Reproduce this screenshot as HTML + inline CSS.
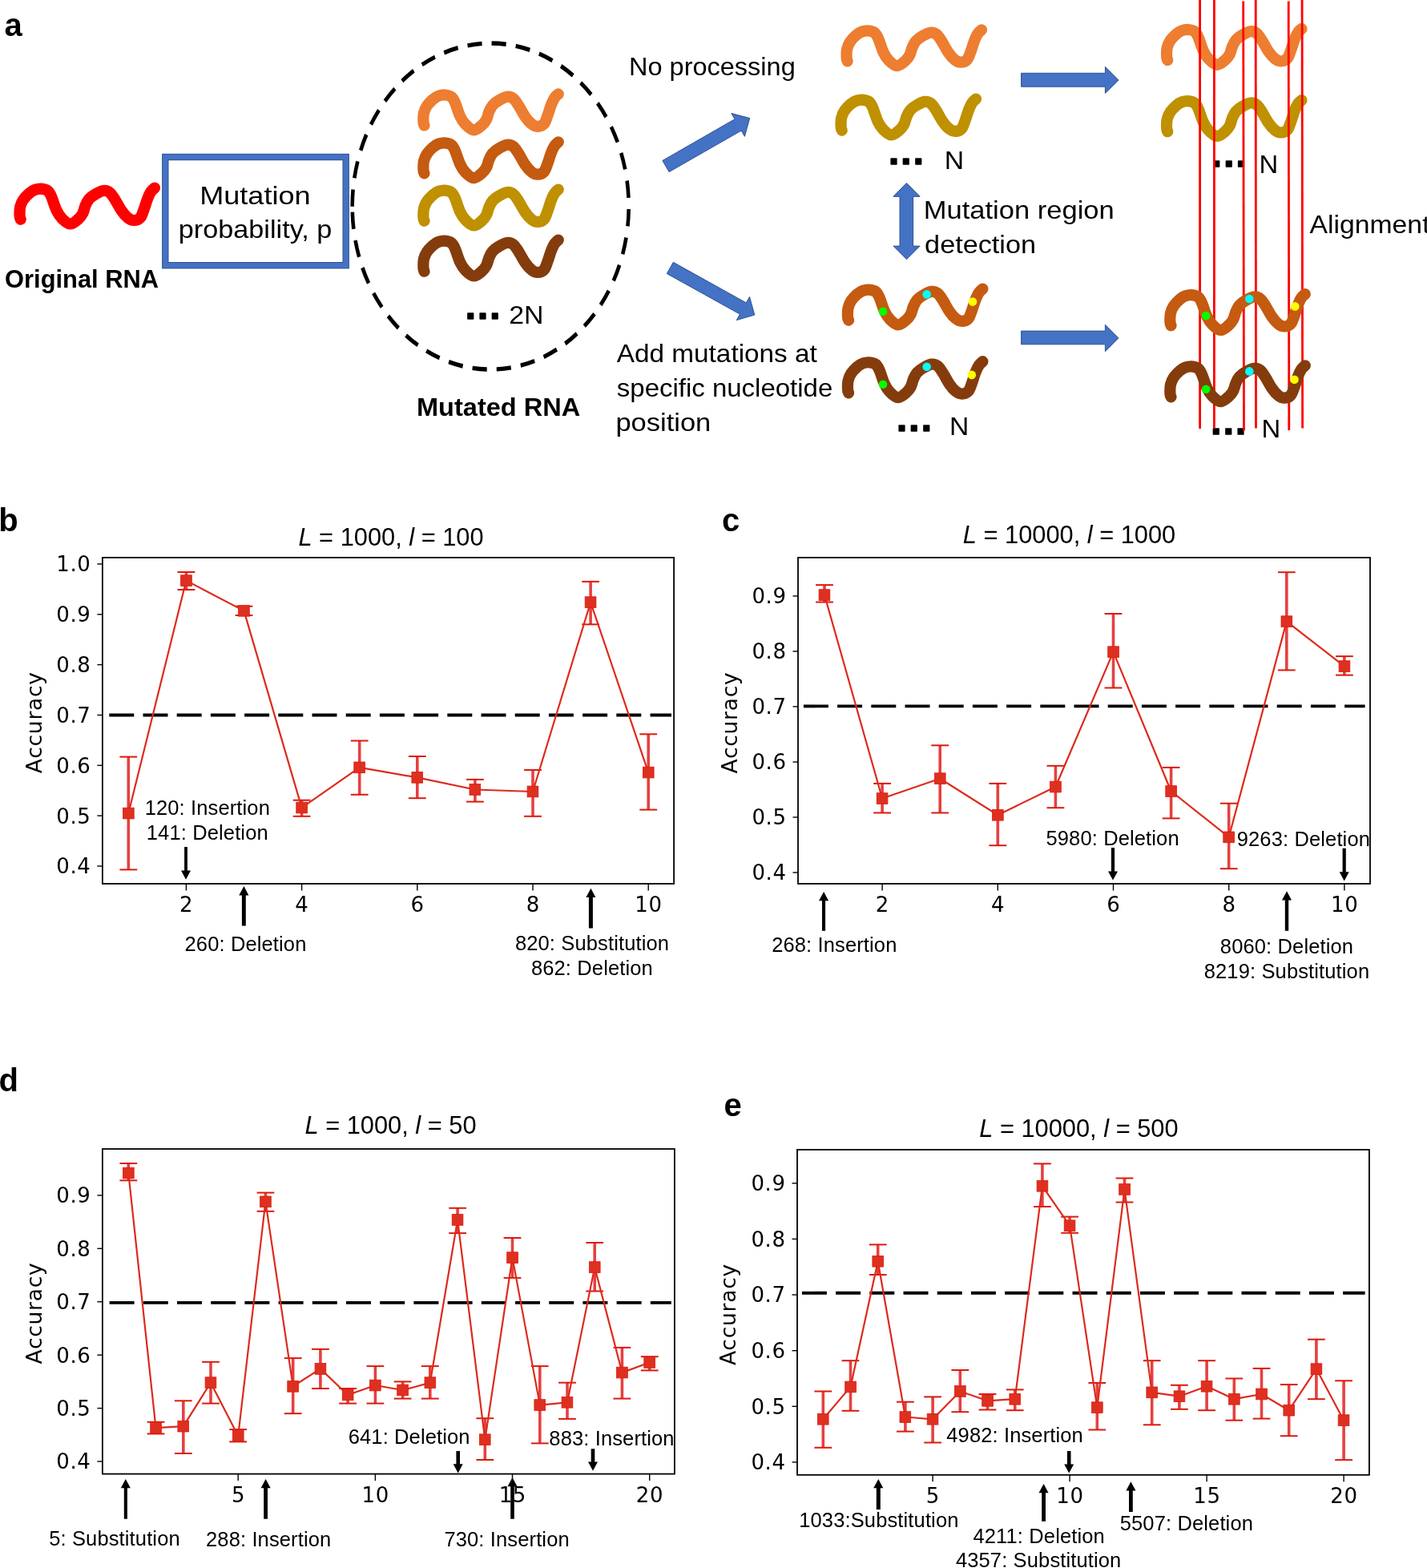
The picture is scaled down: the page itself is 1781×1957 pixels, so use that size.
<!DOCTYPE html><html><head><meta charset="utf-8"><title>Figure</title><style>html,body{margin:0;padding:0;background:#fff;overflow:hidden;}svg{display:block;}</style></head><body><svg width="1781" height="1957" viewBox="0 0 1781 1957"><rect width="1781" height="1957" fill="#fff"/><text x="5.6" y="44.7" font-family='"Liberation Sans", Arial, Helvetica, sans-serif' font-size="40.0" text-anchor="start" font-weight="bold" font-style="normal" fill="#000" >a</text>
<path transform="translate(17.2,228.0)" d="M8.5,45.7 C8.3,45.0 7.5,44.1 7.4,41.5 C7.3,38.9 7.2,33.6 8.0,30.2 C8.8,26.8 10.0,24.0 11.9,21.2 C13.8,18.4 16.8,15.4 19.2,13.3 C21.6,11.2 24.0,9.7 26.5,8.8 C29.0,7.9 31.7,7.5 34.3,7.7 C36.9,7.9 40.1,8.5 42.2,10.0 C44.3,11.5 44.8,12.6 46.7,16.7 C48.6,20.8 51.1,30.0 53.4,34.7 C55.6,39.4 57.4,42.0 60.2,44.8 C63.0,47.6 66.9,51.4 70.3,51.5 C73.7,51.6 77.8,47.7 80.4,45.5 C83.0,43.3 84.5,41.3 86.0,38.5 C87.5,35.7 88.1,31.5 89.4,28.5 C90.7,25.5 91.9,22.8 93.9,20.5 C96.0,18.2 98.7,16.2 101.7,14.5 C104.7,12.8 108.8,10.4 111.8,10.0 C114.8,9.6 117.3,10.3 119.7,12.2 C122.1,14.1 124.0,17.4 126.4,21.2 C128.8,24.9 131.7,31.0 134.3,34.7 C136.9,38.5 139.6,41.7 142.2,43.7 C144.8,45.8 147.4,47.0 150.0,47.0 C152.6,47.0 155.8,46.0 157.9,43.7 C160.0,41.5 160.9,37.4 162.4,33.5 C163.9,29.6 165.4,23.8 166.9,20.1 C168.4,16.4 169.8,13.3 171.3,11.1 C172.8,8.8 175.1,7.3 175.8,6.6" fill="none" stroke="#FF0000" stroke-width="14.2" stroke-linecap="round" stroke-linejoin="round"/>
<text x="6.1" y="359.4" font-family='"Liberation Sans", Arial, Helvetica, sans-serif' font-size="32.0" text-anchor="start" font-weight="bold" font-style="normal" fill="#000" textLength="192" lengthAdjust="spacingAndGlyphs">Original RNA</text>
<rect x="206.3" y="196" width="225.4" height="135.2" fill="none" stroke="#2F528F" stroke-width="8.4"/>
<rect x="206.3" y="196" width="225.4" height="135.2" fill="none" stroke="#4472C4" stroke-width="6.4"/>
<text x="249.2" y="254.5" font-family='"Liberation Sans", Arial, Helvetica, sans-serif' font-size="32.0" text-anchor="start" font-weight="normal" font-style="normal" fill="#000" textLength="138.4" lengthAdjust="spacingAndGlyphs">Mutation</text>
<text x="222.8" y="296.7" font-family='"Liberation Sans", Arial, Helvetica, sans-serif' font-size="32.0" text-anchor="start" font-weight="normal" font-style="normal" fill="#000" textLength="191.5" lengthAdjust="spacingAndGlyphs">probability, p</text>
<path transform="translate(612.2,257.55) scale(1,1.18)" d="M-172.40,6.00 A172.5,172.5 0 0 0 172.40,-6.00 A172.5,172.5 0 0 0 -172.40,6.00" fill="none" stroke="#000" stroke-width="4.6" stroke-dasharray="18.15 12.12"/>
<path transform="translate(521.0,110.8)" d="M8.5,45.7 C8.3,45.0 7.5,44.1 7.4,41.5 C7.3,38.9 7.2,33.6 8.0,30.2 C8.8,26.8 10.0,24.0 11.9,21.2 C13.8,18.4 16.8,15.4 19.2,13.3 C21.6,11.2 24.0,9.7 26.5,8.8 C29.0,7.9 31.7,7.5 34.3,7.7 C36.9,7.9 40.1,8.5 42.2,10.0 C44.3,11.5 44.8,12.6 46.7,16.7 C48.6,20.8 51.1,30.0 53.4,34.7 C55.6,39.4 57.4,42.0 60.2,44.8 C63.0,47.6 66.9,51.4 70.3,51.5 C73.7,51.6 77.8,47.7 80.4,45.5 C83.0,43.3 84.5,41.3 86.0,38.5 C87.5,35.7 88.1,31.5 89.4,28.5 C90.7,25.5 91.9,22.8 93.9,20.5 C96.0,18.2 98.7,16.2 101.7,14.5 C104.7,12.8 108.8,10.4 111.8,10.0 C114.8,9.6 117.3,10.3 119.7,12.2 C122.1,14.1 124.0,17.4 126.4,21.2 C128.8,24.9 131.7,31.0 134.3,34.7 C136.9,38.5 139.6,41.7 142.2,43.7 C144.8,45.8 147.4,47.0 150.0,47.0 C152.6,47.0 155.8,46.0 157.9,43.7 C160.0,41.5 160.9,37.4 162.4,33.5 C163.9,29.6 165.4,23.8 166.9,20.1 C168.4,16.4 169.8,13.3 171.3,11.1 C172.8,8.8 175.1,7.3 175.8,6.6" fill="none" stroke="#ED7D31" stroke-width="14.2" stroke-linecap="round" stroke-linejoin="round"/>
<path transform="translate(521.0,170.7)" d="M8.5,45.7 C8.3,45.0 7.5,44.1 7.4,41.5 C7.3,38.9 7.2,33.6 8.0,30.2 C8.8,26.8 10.0,24.0 11.9,21.2 C13.8,18.4 16.8,15.4 19.2,13.3 C21.6,11.2 24.0,9.7 26.5,8.8 C29.0,7.9 31.7,7.5 34.3,7.7 C36.9,7.9 40.1,8.5 42.2,10.0 C44.3,11.5 44.8,12.6 46.7,16.7 C48.6,20.8 51.1,30.0 53.4,34.7 C55.6,39.4 57.4,42.0 60.2,44.8 C63.0,47.6 66.9,51.4 70.3,51.5 C73.7,51.6 77.8,47.7 80.4,45.5 C83.0,43.3 84.5,41.3 86.0,38.5 C87.5,35.7 88.1,31.5 89.4,28.5 C90.7,25.5 91.9,22.8 93.9,20.5 C96.0,18.2 98.7,16.2 101.7,14.5 C104.7,12.8 108.8,10.4 111.8,10.0 C114.8,9.6 117.3,10.3 119.7,12.2 C122.1,14.1 124.0,17.4 126.4,21.2 C128.8,24.9 131.7,31.0 134.3,34.7 C136.9,38.5 139.6,41.7 142.2,43.7 C144.8,45.8 147.4,47.0 150.0,47.0 C152.6,47.0 155.8,46.0 157.9,43.7 C160.0,41.5 160.9,37.4 162.4,33.5 C163.9,29.6 165.4,23.8 166.9,20.1 C168.4,16.4 169.8,13.3 171.3,11.1 C172.8,8.8 175.1,7.3 175.8,6.6" fill="none" stroke="#C55A11" stroke-width="14.2" stroke-linecap="round" stroke-linejoin="round"/>
<path transform="translate(521.0,230.0)" d="M8.5,45.7 C8.3,45.0 7.5,44.1 7.4,41.5 C7.3,38.9 7.2,33.6 8.0,30.2 C8.8,26.8 10.0,24.0 11.9,21.2 C13.8,18.4 16.8,15.4 19.2,13.3 C21.6,11.2 24.0,9.7 26.5,8.8 C29.0,7.9 31.7,7.5 34.3,7.7 C36.9,7.9 40.1,8.5 42.2,10.0 C44.3,11.5 44.8,12.6 46.7,16.7 C48.6,20.8 51.1,30.0 53.4,34.7 C55.6,39.4 57.4,42.0 60.2,44.8 C63.0,47.6 66.9,51.4 70.3,51.5 C73.7,51.6 77.8,47.7 80.4,45.5 C83.0,43.3 84.5,41.3 86.0,38.5 C87.5,35.7 88.1,31.5 89.4,28.5 C90.7,25.5 91.9,22.8 93.9,20.5 C96.0,18.2 98.7,16.2 101.7,14.5 C104.7,12.8 108.8,10.4 111.8,10.0 C114.8,9.6 117.3,10.3 119.7,12.2 C122.1,14.1 124.0,17.4 126.4,21.2 C128.8,24.9 131.7,31.0 134.3,34.7 C136.9,38.5 139.6,41.7 142.2,43.7 C144.8,45.8 147.4,47.0 150.0,47.0 C152.6,47.0 155.8,46.0 157.9,43.7 C160.0,41.5 160.9,37.4 162.4,33.5 C163.9,29.6 165.4,23.8 166.9,20.1 C168.4,16.4 169.8,13.3 171.3,11.1 C172.8,8.8 175.1,7.3 175.8,6.6" fill="none" stroke="#BF9000" stroke-width="14.2" stroke-linecap="round" stroke-linejoin="round"/>
<path transform="translate(521.0,293.0)" d="M8.5,45.7 C8.3,45.0 7.5,44.1 7.4,41.5 C7.3,38.9 7.2,33.6 8.0,30.2 C8.8,26.8 10.0,24.0 11.9,21.2 C13.8,18.4 16.8,15.4 19.2,13.3 C21.6,11.2 24.0,9.7 26.5,8.8 C29.0,7.9 31.7,7.5 34.3,7.7 C36.9,7.9 40.1,8.5 42.2,10.0 C44.3,11.5 44.8,12.6 46.7,16.7 C48.6,20.8 51.1,30.0 53.4,34.7 C55.6,39.4 57.4,42.0 60.2,44.8 C63.0,47.6 66.9,51.4 70.3,51.5 C73.7,51.6 77.8,47.7 80.4,45.5 C83.0,43.3 84.5,41.3 86.0,38.5 C87.5,35.7 88.1,31.5 89.4,28.5 C90.7,25.5 91.9,22.8 93.9,20.5 C96.0,18.2 98.7,16.2 101.7,14.5 C104.7,12.8 108.8,10.4 111.8,10.0 C114.8,9.6 117.3,10.3 119.7,12.2 C122.1,14.1 124.0,17.4 126.4,21.2 C128.8,24.9 131.7,31.0 134.3,34.7 C136.9,38.5 139.6,41.7 142.2,43.7 C144.8,45.8 147.4,47.0 150.0,47.0 C152.6,47.0 155.8,46.0 157.9,43.7 C160.0,41.5 160.9,37.4 162.4,33.5 C163.9,29.6 165.4,23.8 166.9,20.1 C168.4,16.4 169.8,13.3 171.3,11.1 C172.8,8.8 175.1,7.3 175.8,6.6" fill="none" stroke="#843C0C" stroke-width="14.2" stroke-linecap="round" stroke-linejoin="round"/>
<text x="580.65" y="397.75" font-family='"Liberation Sans", Arial, Helvetica, sans-serif' font-size="47" font-weight="bold" fill="#000" stroke="#000" stroke-width="1.6" stroke-linejoin="round" letter-spacing="2.27">...</text>
<text x="635.2" y="403.9" font-family='"Liberation Sans", Arial, Helvetica, sans-serif' font-size="32.0" text-anchor="start" font-weight="normal" font-style="normal" fill="#000" textLength="43.3" lengthAdjust="spacingAndGlyphs">2N</text>
<text x="520.0" y="518.5" font-family='"Liberation Sans", Arial, Helvetica, sans-serif' font-size="32.0" text-anchor="start" font-weight="bold" font-style="normal" fill="#000" textLength="204.3" lengthAdjust="spacingAndGlyphs">Mutated RNA</text>
<polygon points="835.1,214.6 925.2,163.0 929.4,170.3 935.7,147.5 912.9,141.5 917.0,148.7 826.9,200.4" fill="#4472C4" stroke="#2F528F" stroke-width="1"/>
<polygon points="832.3,341.5 923.4,392.1 919.3,399.6 941.8,393.0 935.5,370.4 931.3,377.9 840.3,327.3" fill="#4472C4" stroke="#2F528F" stroke-width="1"/>
<text x="785.0" y="94.4" font-family='"Liberation Sans", Arial, Helvetica, sans-serif' font-size="32.0" text-anchor="start" font-weight="normal" font-style="normal" fill="#000" textLength="207.7" lengthAdjust="spacingAndGlyphs">No processing</text>
<text x="769.8" y="451.6" font-family='"Liberation Sans", Arial, Helvetica, sans-serif' font-size="32.0" text-anchor="start" font-weight="normal" font-style="normal" fill="#000" textLength="250" lengthAdjust="spacingAndGlyphs">Add mutations at</text>
<text x="769.8" y="495.1" font-family='"Liberation Sans", Arial, Helvetica, sans-serif' font-size="32.0" text-anchor="start" font-weight="normal" font-style="normal" fill="#000" textLength="269.5" lengthAdjust="spacingAndGlyphs">specific nucleotide</text>
<text x="768.4" y="538.1" font-family='"Liberation Sans", Arial, Helvetica, sans-serif' font-size="32.0" text-anchor="start" font-weight="normal" font-style="normal" fill="#000" textLength="118.9" lengthAdjust="spacingAndGlyphs">position</text>
<path transform="translate(1049.2,30.7)" d="M8.5,45.7 C8.3,45.0 7.5,44.1 7.4,41.5 C7.3,38.9 7.2,33.6 8.0,30.2 C8.8,26.8 10.0,24.0 11.9,21.2 C13.8,18.4 16.8,15.4 19.2,13.3 C21.6,11.2 24.0,9.7 26.5,8.8 C29.0,7.9 31.7,7.5 34.3,7.7 C36.9,7.9 40.1,8.5 42.2,10.0 C44.3,11.5 44.8,12.6 46.7,16.7 C48.6,20.8 51.1,30.0 53.4,34.7 C55.6,39.4 57.4,42.0 60.2,44.8 C63.0,47.6 66.9,51.4 70.3,51.5 C73.7,51.6 77.8,47.7 80.4,45.5 C83.0,43.3 84.5,41.3 86.0,38.5 C87.5,35.7 88.1,31.5 89.4,28.5 C90.7,25.5 91.9,22.8 93.9,20.5 C96.0,18.2 98.7,16.2 101.7,14.5 C104.7,12.8 108.8,10.4 111.8,10.0 C114.8,9.6 117.3,10.3 119.7,12.2 C122.1,14.1 124.0,17.4 126.4,21.2 C128.8,24.9 131.7,31.0 134.3,34.7 C136.9,38.5 139.6,41.7 142.2,43.7 C144.8,45.8 147.4,47.0 150.0,47.0 C152.6,47.0 155.8,46.0 157.9,43.7 C160.0,41.5 160.9,37.4 162.4,33.5 C163.9,29.6 165.4,23.8 166.9,20.1 C168.4,16.4 169.8,13.3 171.3,11.1 C172.8,8.8 175.1,7.3 175.8,6.6" fill="none" stroke="#ED7D31" stroke-width="14.2" stroke-linecap="round" stroke-linejoin="round"/>
<path transform="translate(1042.2,116.9)" d="M8.5,45.7 C8.3,45.0 7.5,44.1 7.4,41.5 C7.3,38.9 7.2,33.6 8.0,30.2 C8.8,26.8 10.0,24.0 11.9,21.2 C13.8,18.4 16.8,15.4 19.2,13.3 C21.6,11.2 24.0,9.7 26.5,8.8 C29.0,7.9 31.7,7.5 34.3,7.7 C36.9,7.9 40.1,8.5 42.2,10.0 C44.3,11.5 44.8,12.6 46.7,16.7 C48.6,20.8 51.1,30.0 53.4,34.7 C55.6,39.4 57.4,42.0 60.2,44.8 C63.0,47.6 66.9,51.4 70.3,51.5 C73.7,51.6 77.8,47.7 80.4,45.5 C83.0,43.3 84.5,41.3 86.0,38.5 C87.5,35.7 88.1,31.5 89.4,28.5 C90.7,25.5 91.9,22.8 93.9,20.5 C96.0,18.2 98.7,16.2 101.7,14.5 C104.7,12.8 108.8,10.4 111.8,10.0 C114.8,9.6 117.3,10.3 119.7,12.2 C122.1,14.1 124.0,17.4 126.4,21.2 C128.8,24.9 131.7,31.0 134.3,34.7 C136.9,38.5 139.6,41.7 142.2,43.7 C144.8,45.8 147.4,47.0 150.0,47.0 C152.6,47.0 155.8,46.0 157.9,43.7 C160.0,41.5 160.9,37.4 162.4,33.5 C163.9,29.6 165.4,23.8 166.9,20.1 C168.4,16.4 169.8,13.3 171.3,11.1 C172.8,8.8 175.1,7.3 175.8,6.6" fill="none" stroke="#BF9000" stroke-width="14.2" stroke-linecap="round" stroke-linejoin="round"/>
<text x="1109.05" y="204.95" font-family='"Liberation Sans", Arial, Helvetica, sans-serif' font-size="47" font-weight="bold" fill="#000" stroke="#000" stroke-width="1.6" stroke-linejoin="round" letter-spacing="2.27">...</text>
<text x="1178.7" y="210.9" font-family='"Liberation Sans", Arial, Helvetica, sans-serif' font-size="32.0" text-anchor="start" font-weight="normal" font-style="normal" fill="#000" textLength="24.4" lengthAdjust="spacingAndGlyphs">N</text>
<path transform="translate(1050.6,353.9)" d="M8.5,45.7 C8.3,45.0 7.5,44.1 7.4,41.5 C7.3,38.9 7.2,33.6 8.0,30.2 C8.8,26.8 10.0,24.0 11.9,21.2 C13.8,18.4 16.8,15.4 19.2,13.3 C21.6,11.2 24.0,9.7 26.5,8.8 C29.0,7.9 31.7,7.5 34.3,7.7 C36.9,7.9 40.1,8.5 42.2,10.0 C44.3,11.5 44.8,12.6 46.7,16.7 C48.6,20.8 51.1,30.0 53.4,34.7 C55.6,39.4 57.4,42.0 60.2,44.8 C63.0,47.6 66.9,51.4 70.3,51.5 C73.7,51.6 77.8,47.7 80.4,45.5 C83.0,43.3 84.5,41.3 86.0,38.5 C87.5,35.7 88.1,31.5 89.4,28.5 C90.7,25.5 91.9,22.8 93.9,20.5 C96.0,18.2 98.7,16.2 101.7,14.5 C104.7,12.8 108.8,10.4 111.8,10.0 C114.8,9.6 117.3,10.3 119.7,12.2 C122.1,14.1 124.0,17.4 126.4,21.2 C128.8,24.9 131.7,31.0 134.3,34.7 C136.9,38.5 139.6,41.7 142.2,43.7 C144.8,45.8 147.4,47.0 150.0,47.0 C152.6,47.0 155.8,46.0 157.9,43.7 C160.0,41.5 160.9,37.4 162.4,33.5 C163.9,29.6 165.4,23.8 166.9,20.1 C168.4,16.4 169.8,13.3 171.3,11.1 C172.8,8.8 175.1,7.3 175.8,6.6" fill="none" stroke="#C55A11" stroke-width="14.2" stroke-linecap="round" stroke-linejoin="round"/>
<path transform="translate(1050.6,444.6)" d="M8.5,45.7 C8.3,45.0 7.5,44.1 7.4,41.5 C7.3,38.9 7.2,33.6 8.0,30.2 C8.8,26.8 10.0,24.0 11.9,21.2 C13.8,18.4 16.8,15.4 19.2,13.3 C21.6,11.2 24.0,9.7 26.5,8.8 C29.0,7.9 31.7,7.5 34.3,7.7 C36.9,7.9 40.1,8.5 42.2,10.0 C44.3,11.5 44.8,12.6 46.7,16.7 C48.6,20.8 51.1,30.0 53.4,34.7 C55.6,39.4 57.4,42.0 60.2,44.8 C63.0,47.6 66.9,51.4 70.3,51.5 C73.7,51.6 77.8,47.7 80.4,45.5 C83.0,43.3 84.5,41.3 86.0,38.5 C87.5,35.7 88.1,31.5 89.4,28.5 C90.7,25.5 91.9,22.8 93.9,20.5 C96.0,18.2 98.7,16.2 101.7,14.5 C104.7,12.8 108.8,10.4 111.8,10.0 C114.8,9.6 117.3,10.3 119.7,12.2 C122.1,14.1 124.0,17.4 126.4,21.2 C128.8,24.9 131.7,31.0 134.3,34.7 C136.9,38.5 139.6,41.7 142.2,43.7 C144.8,45.8 147.4,47.0 150.0,47.0 C152.6,47.0 155.8,46.0 157.9,43.7 C160.0,41.5 160.9,37.4 162.4,33.5 C163.9,29.6 165.4,23.8 166.9,20.1 C168.4,16.4 169.8,13.3 171.3,11.1 C172.8,8.8 175.1,7.3 175.8,6.6" fill="none" stroke="#843C0C" stroke-width="14.2" stroke-linecap="round" stroke-linejoin="round"/>
<circle cx="1102.0" cy="388.7" r="5.3" fill="#00FF00"/>
<circle cx="1156.7" cy="367.4" r="5.3" fill="#00FFFF"/>
<circle cx="1214.0" cy="376.6" r="5.3" fill="#FFFF00"/>
<circle cx="1102.0" cy="479.7" r="5.3" fill="#00FF00"/>
<circle cx="1156.7" cy="457.8" r="5.3" fill="#00FFFF"/>
<circle cx="1212.8" cy="467.9" r="5.3" fill="#FFFF00"/>
<text x="1119.05" y="537.75" font-family='"Liberation Sans", Arial, Helvetica, sans-serif' font-size="47" font-weight="bold" fill="#000" stroke="#000" stroke-width="1.6" stroke-linejoin="round" letter-spacing="2.27">...</text>
<text x="1185.0" y="542.8" font-family='"Liberation Sans", Arial, Helvetica, sans-serif' font-size="32.0" text-anchor="start" font-weight="normal" font-style="normal" fill="#000" textLength="24.3" lengthAdjust="spacingAndGlyphs">N</text>
<polygon points="1131.5,228.4 1148.1,245.3 1139.6,245.3 1139.6,307.1 1148.1,307.1 1131.5,323.7 1114.9,307.1 1123,307.1 1123,245.3 1114.9,245.3" fill="#4472C4" stroke="#2F528F" stroke-width="1"/>
<text x="1152.8" y="272.5" font-family='"Liberation Sans", Arial, Helvetica, sans-serif' font-size="32.0" text-anchor="start" font-weight="normal" font-style="normal" fill="#000" textLength="237.9" lengthAdjust="spacingAndGlyphs">Mutation region</text>
<text x="1154.1" y="316.2" font-family='"Liberation Sans", Arial, Helvetica, sans-serif' font-size="32.0" text-anchor="start" font-weight="normal" font-style="normal" fill="#000" textLength="138.9" lengthAdjust="spacingAndGlyphs">detection</text>
<polygon points="1274.6,91.3 1379.4,91.3 1379.4,83.4 1396,99.9 1379.4,116.4 1379.4,108.2 1274.6,108.2" fill="#4472C4" stroke="#2F528F" stroke-width="1"/>
<polygon points="1274.6,413.1 1379.4,413.1 1379.4,405.2 1396,421.9 1379.4,438.6 1379.4,429.8 1274.6,429.8" fill="#4472C4" stroke="#2F528F" stroke-width="1"/>
<path transform="translate(1448.7,29.3)" d="M8.5,45.7 C8.3,45.0 7.5,44.1 7.4,41.5 C7.3,38.9 7.2,33.6 8.0,30.2 C8.8,26.8 10.0,24.0 11.9,21.2 C13.8,18.4 16.8,15.4 19.2,13.3 C21.6,11.2 24.0,9.7 26.5,8.8 C29.0,7.9 31.7,7.5 34.3,7.7 C36.9,7.9 40.1,8.5 42.2,10.0 C44.3,11.5 44.8,12.6 46.7,16.7 C48.6,20.8 51.1,30.0 53.4,34.7 C55.6,39.4 57.4,42.0 60.2,44.8 C63.0,47.6 66.9,51.4 70.3,51.5 C73.7,51.6 77.8,47.7 80.4,45.5 C83.0,43.3 84.5,41.3 86.0,38.5 C87.5,35.7 88.1,31.5 89.4,28.5 C90.7,25.5 91.9,22.8 93.9,20.5 C96.0,18.2 98.7,16.2 101.7,14.5 C104.7,12.8 108.8,10.4 111.8,10.0 C114.8,9.6 117.3,10.3 119.7,12.2 C122.1,14.1 124.0,17.4 126.4,21.2 C128.8,24.9 131.7,31.0 134.3,34.7 C136.9,38.5 139.6,41.7 142.2,43.7 C144.8,45.8 147.4,47.0 150.0,47.0 C152.6,47.0 155.8,46.0 157.9,43.7 C160.0,41.5 160.9,37.4 162.4,33.5 C163.9,29.6 165.4,23.8 166.9,20.1 C168.4,16.4 169.8,13.3 171.3,11.1 C172.8,8.8 175.1,7.3 175.8,6.6" fill="none" stroke="#ED7D31" stroke-width="14.2" stroke-linecap="round" stroke-linejoin="round"/>
<path transform="translate(1448.7,118.5)" d="M8.5,45.7 C8.3,45.0 7.5,44.1 7.4,41.5 C7.3,38.9 7.2,33.6 8.0,30.2 C8.8,26.8 10.0,24.0 11.9,21.2 C13.8,18.4 16.8,15.4 19.2,13.3 C21.6,11.2 24.0,9.7 26.5,8.8 C29.0,7.9 31.7,7.5 34.3,7.7 C36.9,7.9 40.1,8.5 42.2,10.0 C44.3,11.5 44.8,12.6 46.7,16.7 C48.6,20.8 51.1,30.0 53.4,34.7 C55.6,39.4 57.4,42.0 60.2,44.8 C63.0,47.6 66.9,51.4 70.3,51.5 C73.7,51.6 77.8,47.7 80.4,45.5 C83.0,43.3 84.5,41.3 86.0,38.5 C87.5,35.7 88.1,31.5 89.4,28.5 C90.7,25.5 91.9,22.8 93.9,20.5 C96.0,18.2 98.7,16.2 101.7,14.5 C104.7,12.8 108.8,10.4 111.8,10.0 C114.8,9.6 117.3,10.3 119.7,12.2 C122.1,14.1 124.0,17.4 126.4,21.2 C128.8,24.9 131.7,31.0 134.3,34.7 C136.9,38.5 139.6,41.7 142.2,43.7 C144.8,45.8 147.4,47.0 150.0,47.0 C152.6,47.0 155.8,46.0 157.9,43.7 C160.0,41.5 160.9,37.4 162.4,33.5 C163.9,29.6 165.4,23.8 166.9,20.1 C168.4,16.4 169.8,13.3 171.3,11.1 C172.8,8.8 175.1,7.3 175.8,6.6" fill="none" stroke="#BF9000" stroke-width="14.2" stroke-linecap="round" stroke-linejoin="round"/>
<text x="1511.85" y="208.45" font-family='"Liberation Sans", Arial, Helvetica, sans-serif' font-size="47" font-weight="bold" fill="#000" stroke="#000" stroke-width="1.6" stroke-linejoin="round" letter-spacing="2.27">...</text>
<text x="1511.35" y="541.95" font-family='"Liberation Sans", Arial, Helvetica, sans-serif' font-size="47" font-weight="bold" fill="#000" stroke="#000" stroke-width="1.6" stroke-linejoin="round" letter-spacing="2.27">...</text>
<text x="1571.5" y="215.6" font-family='"Liberation Sans", Arial, Helvetica, sans-serif' font-size="32.0" text-anchor="start" font-weight="normal" font-style="normal" fill="#000" textLength="23.7" lengthAdjust="spacingAndGlyphs">N</text>
<text x="1574.4" y="545.6" font-family='"Liberation Sans", Arial, Helvetica, sans-serif' font-size="32.0" text-anchor="start" font-weight="normal" font-style="normal" fill="#000" textLength="23.7" lengthAdjust="spacingAndGlyphs">N</text>
<line x1="1497.6" y1="0.0" x2="1497.6" y2="535.0" stroke="#FF0000" stroke-width="2.8"/>
<line x1="1515.4" y1="0.0" x2="1515.4" y2="534.5" stroke="#FF0000" stroke-width="2.8"/>
<line x1="1551.7" y1="1.5" x2="1552.5" y2="537.5" stroke="#FF0000" stroke-width="2.8"/>
<line x1="1567.2" y1="0.0" x2="1567.5" y2="534.5" stroke="#FF0000" stroke-width="2.8"/>
<line x1="1608.2" y1="1.5" x2="1608.8" y2="537.0" stroke="#FF0000" stroke-width="2.8"/>
<line x1="1625.1" y1="0.0" x2="1625.6" y2="534.5" stroke="#FF0000" stroke-width="2.8"/>
<path transform="translate(1453.0,360.5)" d="M8.5,45.7 C8.3,45.0 7.5,44.1 7.4,41.5 C7.3,38.9 7.2,33.6 8.0,30.2 C8.8,26.8 10.0,24.0 11.9,21.2 C13.8,18.4 16.8,15.4 19.2,13.3 C21.6,11.2 24.0,9.7 26.5,8.8 C29.0,7.9 31.7,7.5 34.3,7.7 C36.9,7.9 40.1,8.5 42.2,10.0 C44.3,11.5 44.8,12.6 46.7,16.7 C48.6,20.8 51.1,30.0 53.4,34.7 C55.6,39.4 57.4,42.0 60.2,44.8 C63.0,47.6 66.9,51.4 70.3,51.5 C73.7,51.6 77.8,47.7 80.4,45.5 C83.0,43.3 84.5,41.3 86.0,38.5 C87.5,35.7 88.1,31.5 89.4,28.5 C90.7,25.5 91.9,22.8 93.9,20.5 C96.0,18.2 98.7,16.2 101.7,14.5 C104.7,12.8 108.8,10.4 111.8,10.0 C114.8,9.6 117.3,10.3 119.7,12.2 C122.1,14.1 124.0,17.4 126.4,21.2 C128.8,24.9 131.7,31.0 134.3,34.7 C136.9,38.5 139.6,41.7 142.2,43.7 C144.8,45.8 147.4,47.0 150.0,47.0 C152.6,47.0 155.8,46.0 157.9,43.7 C160.0,41.5 160.9,37.4 162.4,33.5 C163.9,29.6 165.4,23.8 166.9,20.1 C168.4,16.4 169.8,13.3 171.3,11.1 C172.8,8.8 175.1,7.3 175.8,6.6" fill="none" stroke="#C55A11" stroke-width="14.2" stroke-linecap="round" stroke-linejoin="round"/>
<path transform="translate(1453.0,449.7)" d="M8.5,45.7 C8.3,45.0 7.5,44.1 7.4,41.5 C7.3,38.9 7.2,33.6 8.0,30.2 C8.8,26.8 10.0,24.0 11.9,21.2 C13.8,18.4 16.8,15.4 19.2,13.3 C21.6,11.2 24.0,9.7 26.5,8.8 C29.0,7.9 31.7,7.5 34.3,7.7 C36.9,7.9 40.1,8.5 42.2,10.0 C44.3,11.5 44.8,12.6 46.7,16.7 C48.6,20.8 51.1,30.0 53.4,34.7 C55.6,39.4 57.4,42.0 60.2,44.8 C63.0,47.6 66.9,51.4 70.3,51.5 C73.7,51.6 77.8,47.7 80.4,45.5 C83.0,43.3 84.5,41.3 86.0,38.5 C87.5,35.7 88.1,31.5 89.4,28.5 C90.7,25.5 91.9,22.8 93.9,20.5 C96.0,18.2 98.7,16.2 101.7,14.5 C104.7,12.8 108.8,10.4 111.8,10.0 C114.8,9.6 117.3,10.3 119.7,12.2 C122.1,14.1 124.0,17.4 126.4,21.2 C128.8,24.9 131.7,31.0 134.3,34.7 C136.9,38.5 139.6,41.7 142.2,43.7 C144.8,45.8 147.4,47.0 150.0,47.0 C152.6,47.0 155.8,46.0 157.9,43.7 C160.0,41.5 160.9,37.4 162.4,33.5 C163.9,29.6 165.4,23.8 166.9,20.1 C168.4,16.4 169.8,13.3 171.3,11.1 C172.8,8.8 175.1,7.3 175.8,6.6" fill="none" stroke="#843C0C" stroke-width="14.2" stroke-linecap="round" stroke-linejoin="round"/>
<circle cx="1505.2" cy="394.1" r="5.3" fill="#00FF00"/>
<circle cx="1559.3" cy="373.0" r="5.3" fill="#00FFFF"/>
<circle cx="1616.3" cy="382.4" r="5.3" fill="#FFFF00"/>
<circle cx="1505.2" cy="485.7" r="5.3" fill="#00FF00"/>
<circle cx="1559.3" cy="463.4" r="5.3" fill="#00FFFF"/>
<circle cx="1615.5" cy="473.7" r="5.3" fill="#FFFF00"/>
<text x="1634.5" y="291.1" font-family='"Liberation Sans", Arial, Helvetica, sans-serif' font-size="32.0" text-anchor="start" font-weight="normal" font-style="normal" fill="#000" textLength="150" lengthAdjust="spacingAndGlyphs">Alignment</text>
<line x1="136.3" y1="892.5" x2="838.0" y2="892.5" stroke="#000" stroke-width="3.9" stroke-dasharray="31 11.2"/>
<line x1="160.3" y1="944.6" x2="160.3" y2="1085.4" stroke="#E64040" stroke-width="3.6"/>
<line x1="149.4" y1="944.6" x2="171.2" y2="944.6" stroke="#DC1A0C" stroke-width="2"/>
<line x1="149.4" y1="1085.4" x2="171.2" y2="1085.4" stroke="#DC1A0C" stroke-width="2"/>
<line x1="232.4" y1="714.0" x2="232.4" y2="736.0" stroke="#E64040" stroke-width="3.6"/>
<line x1="221.5" y1="714.0" x2="243.3" y2="714.0" stroke="#DC1A0C" stroke-width="2"/>
<line x1="221.5" y1="736.0" x2="243.3" y2="736.0" stroke="#DC1A0C" stroke-width="2"/>
<line x1="304.5" y1="756.7" x2="304.5" y2="768.0" stroke="#E64040" stroke-width="3.6"/>
<line x1="293.6" y1="756.7" x2="315.4" y2="756.7" stroke="#DC1A0C" stroke-width="2"/>
<line x1="293.6" y1="768.0" x2="315.4" y2="768.0" stroke="#DC1A0C" stroke-width="2"/>
<line x1="376.6" y1="998.7" x2="376.6" y2="1018.8" stroke="#E64040" stroke-width="3.6"/>
<line x1="365.7" y1="998.7" x2="387.5" y2="998.7" stroke="#DC1A0C" stroke-width="2"/>
<line x1="365.7" y1="1018.8" x2="387.5" y2="1018.8" stroke="#DC1A0C" stroke-width="2"/>
<line x1="448.7" y1="924.5" x2="448.7" y2="991.8" stroke="#E64040" stroke-width="3.6"/>
<line x1="437.8" y1="924.5" x2="459.6" y2="924.5" stroke="#DC1A0C" stroke-width="2"/>
<line x1="437.8" y1="991.8" x2="459.6" y2="991.8" stroke="#DC1A0C" stroke-width="2"/>
<line x1="520.8" y1="944.0" x2="520.8" y2="996.2" stroke="#E64040" stroke-width="3.6"/>
<line x1="509.9" y1="944.0" x2="531.7" y2="944.0" stroke="#DC1A0C" stroke-width="2"/>
<line x1="509.9" y1="996.2" x2="531.7" y2="996.2" stroke="#DC1A0C" stroke-width="2"/>
<line x1="592.9" y1="972.9" x2="592.9" y2="1000.6" stroke="#E64040" stroke-width="3.6"/>
<line x1="582.0" y1="972.9" x2="603.8" y2="972.9" stroke="#DC1A0C" stroke-width="2"/>
<line x1="582.0" y1="1000.6" x2="603.8" y2="1000.6" stroke="#DC1A0C" stroke-width="2"/>
<line x1="665.0" y1="961.0" x2="665.0" y2="1018.8" stroke="#E64040" stroke-width="3.6"/>
<line x1="654.1" y1="961.0" x2="675.9" y2="961.0" stroke="#DC1A0C" stroke-width="2"/>
<line x1="654.1" y1="1018.8" x2="675.9" y2="1018.8" stroke="#DC1A0C" stroke-width="2"/>
<line x1="737.1" y1="725.9" x2="737.1" y2="779.3" stroke="#E64040" stroke-width="3.6"/>
<line x1="726.2" y1="725.9" x2="748.0" y2="725.9" stroke="#DC1A0C" stroke-width="2"/>
<line x1="726.2" y1="779.3" x2="748.0" y2="779.3" stroke="#DC1A0C" stroke-width="2"/>
<line x1="809.2" y1="916.3" x2="809.2" y2="1010.6" stroke="#E64040" stroke-width="3.6"/>
<line x1="798.3" y1="916.3" x2="820.1" y2="916.3" stroke="#DC1A0C" stroke-width="2"/>
<line x1="798.3" y1="1010.6" x2="820.1" y2="1010.6" stroke="#DC1A0C" stroke-width="2"/>
<polyline points="160.3,1015.0 232.4,724.6 304.5,762.4 376.6,1008.1 448.7,957.8 520.8,970.4 592.9,985.5 665.0,988.0 737.1,751.7 809.2,964.1" fill="none" stroke="#DD2A1C" stroke-width="2.2" stroke-linejoin="round"/>
<rect x="153.5" y="1008.2" width="13.7" height="13.7" fill="#DE3021" stroke="#DC1A0C" stroke-width="0.8"/>
<rect x="225.6" y="717.8" width="13.7" height="13.7" fill="#DE3021" stroke="#DC1A0C" stroke-width="0.8"/>
<rect x="297.6" y="755.5" width="13.7" height="13.7" fill="#DE3021" stroke="#DC1A0C" stroke-width="0.8"/>
<rect x="369.8" y="1001.2" width="13.7" height="13.7" fill="#DE3021" stroke="#DC1A0C" stroke-width="0.8"/>
<rect x="441.8" y="951.0" width="13.7" height="13.7" fill="#DE3021" stroke="#DC1A0C" stroke-width="0.8"/>
<rect x="513.9" y="963.5" width="13.7" height="13.7" fill="#DE3021" stroke="#DC1A0C" stroke-width="0.8"/>
<rect x="586.0" y="978.6" width="13.7" height="13.7" fill="#DE3021" stroke="#DC1A0C" stroke-width="0.8"/>
<rect x="658.1" y="981.1" width="13.7" height="13.7" fill="#DE3021" stroke="#DC1A0C" stroke-width="0.8"/>
<rect x="730.2" y="744.8" width="13.7" height="13.7" fill="#DE3021" stroke="#DC1A0C" stroke-width="0.8"/>
<rect x="802.4" y="957.2" width="13.7" height="13.7" fill="#DE3021" stroke="#DC1A0C" stroke-width="0.8"/>
<rect x="127.9" y="695.9" width="713.2" height="407.1" fill="none" stroke="#000" stroke-width="1.8"/>
<line x1="121.4" y1="1081.0" x2="127.9" y2="1081.0" stroke="#000" stroke-width="1.4"/>
<text x="113.5" y="1090.3" font-family='"DejaVu Sans", "Liberation Sans", sans-serif' font-size="26.0" text-anchor="end" font-weight="normal" font-style="normal" fill="#000" letter-spacing="0.6">0.4</text>
<line x1="121.4" y1="1018.1" x2="127.9" y2="1018.1" stroke="#000" stroke-width="1.4"/>
<text x="113.5" y="1027.5" font-family='"DejaVu Sans", "Liberation Sans", sans-serif' font-size="26.0" text-anchor="end" font-weight="normal" font-style="normal" fill="#000" letter-spacing="0.6">0.5</text>
<line x1="121.4" y1="955.3" x2="127.9" y2="955.3" stroke="#000" stroke-width="1.4"/>
<text x="113.5" y="964.6" font-family='"DejaVu Sans", "Liberation Sans", sans-serif' font-size="26.0" text-anchor="end" font-weight="normal" font-style="normal" fill="#000" letter-spacing="0.6">0.6</text>
<line x1="121.4" y1="892.5" x2="127.9" y2="892.5" stroke="#000" stroke-width="1.4"/>
<text x="113.5" y="901.8" font-family='"DejaVu Sans", "Liberation Sans", sans-serif' font-size="26.0" text-anchor="end" font-weight="normal" font-style="normal" fill="#000" letter-spacing="0.6">0.7</text>
<line x1="121.4" y1="829.6" x2="127.9" y2="829.6" stroke="#000" stroke-width="1.4"/>
<text x="113.5" y="838.9" font-family='"DejaVu Sans", "Liberation Sans", sans-serif' font-size="26.0" text-anchor="end" font-weight="normal" font-style="normal" fill="#000" letter-spacing="0.6">0.8</text>
<line x1="121.4" y1="766.8" x2="127.9" y2="766.8" stroke="#000" stroke-width="1.4"/>
<text x="113.5" y="776.0" font-family='"DejaVu Sans", "Liberation Sans", sans-serif' font-size="26.0" text-anchor="end" font-weight="normal" font-style="normal" fill="#000" letter-spacing="0.6">0.9</text>
<line x1="121.4" y1="703.9" x2="127.9" y2="703.9" stroke="#000" stroke-width="1.4"/>
<text x="113.5" y="713.2" font-family='"DejaVu Sans", "Liberation Sans", sans-serif' font-size="26.0" text-anchor="end" font-weight="normal" font-style="normal" fill="#000" letter-spacing="0.6">1.0</text>
<line x1="232.4" y1="1103.0" x2="232.4" y2="1111.5" stroke="#000" stroke-width="1.4"/>
<text x="232.7" y="1138.0" font-family='"DejaVu Sans", "Liberation Sans", sans-serif' font-size="26.0" text-anchor="middle" font-weight="normal" font-style="normal" fill="#000" letter-spacing="0.6">2</text>
<line x1="376.6" y1="1103.0" x2="376.6" y2="1111.5" stroke="#000" stroke-width="1.4"/>
<text x="376.9" y="1138.0" font-family='"DejaVu Sans", "Liberation Sans", sans-serif' font-size="26.0" text-anchor="middle" font-weight="normal" font-style="normal" fill="#000" letter-spacing="0.6">4</text>
<line x1="520.8" y1="1103.0" x2="520.8" y2="1111.5" stroke="#000" stroke-width="1.4"/>
<text x="521.1" y="1138.0" font-family='"DejaVu Sans", "Liberation Sans", sans-serif' font-size="26.0" text-anchor="middle" font-weight="normal" font-style="normal" fill="#000" letter-spacing="0.6">6</text>
<line x1="665.0" y1="1103.0" x2="665.0" y2="1111.5" stroke="#000" stroke-width="1.4"/>
<text x="665.3" y="1138.0" font-family='"DejaVu Sans", "Liberation Sans", sans-serif' font-size="26.0" text-anchor="middle" font-weight="normal" font-style="normal" fill="#000" letter-spacing="0.6">8</text>
<line x1="809.2" y1="1103.0" x2="809.2" y2="1111.5" stroke="#000" stroke-width="1.4"/>
<text x="809.5" y="1138.0" font-family='"DejaVu Sans", "Liberation Sans", sans-serif' font-size="26.0" text-anchor="middle" font-weight="normal" font-style="normal" fill="#000" letter-spacing="0.6">10</text>
<text transform="translate(51.5,901.7) rotate(-90)" font-family='"DejaVu Sans", "Liberation Sans", sans-serif' font-size="26.5" text-anchor="middle" letter-spacing="0.75" fill="#000">Accuracy</text>
<text x="488.0" y="680.6" font-family='"Liberation Sans", Arial, Helvetica, sans-serif' font-size="30.8" text-anchor="middle" fill="#000"><tspan font-style="italic">L</tspan> = 1000, <tspan font-style="italic">l</tspan> = 100</text>
<text x="-1.8" y="663.3" font-family='"Liberation Sans", Arial, Helvetica, sans-serif' font-size="40.0" text-anchor="start" font-weight="bold" font-style="normal" fill="#000" >b</text>
<text x="258.8" y="1017.1" font-family='"Liberation Sans", Arial, Helvetica, sans-serif' font-size="25.5" text-anchor="middle" font-weight="normal" font-style="normal" fill="#000" letter-spacing="0.13">120: Insertion</text>
<text x="258.8" y="1047.8" font-family='"Liberation Sans", Arial, Helvetica, sans-serif' font-size="25.5" text-anchor="middle" font-weight="normal" font-style="normal" fill="#000" letter-spacing="0.13">141: Deletion</text>
<path d="M230.1,1057.0 L233.9,1057.0 L233.9,1086.5 L238.0,1086.5 L232.0,1097.7 L226.0,1086.5 L230.1,1086.5 Z" fill="#000"/>
<path d="M301.9,1155.6 L306.8,1155.6 L306.8,1117.4 L310.4,1117.4 L304.4,1106.1 L298.3,1117.4 L301.9,1117.4 Z" fill="#000"/>
<text x="306.5" y="1187.0" font-family='"Liberation Sans", Arial, Helvetica, sans-serif' font-size="25.5" text-anchor="middle" font-weight="normal" font-style="normal" fill="#000" letter-spacing="0.13">260: Deletion</text>
<path d="M734.9,1158.4 L739.9,1158.4 L739.9,1120.1 L743.4,1120.1 L737.4,1108.8 L731.4,1120.1 L734.9,1120.1 Z" fill="#000"/>
<text x="739.0" y="1185.5" font-family='"Liberation Sans", Arial, Helvetica, sans-serif' font-size="25.5" text-anchor="middle" font-weight="normal" font-style="normal" fill="#000" letter-spacing="0.13">820: Substitution</text>
<text x="738.9" y="1216.7" font-family='"Liberation Sans", Arial, Helvetica, sans-serif' font-size="25.5" text-anchor="middle" font-weight="normal" font-style="normal" fill="#000" letter-spacing="0.13">862: Deletion</text>
<line x1="1002.9" y1="881.4" x2="1703.6" y2="881.4" stroke="#000" stroke-width="3.9" stroke-dasharray="31 11.2"/>
<line x1="1029.0" y1="730.1" x2="1029.0" y2="751.5" stroke="#E64040" stroke-width="3.6"/>
<line x1="1018.1" y1="730.1" x2="1039.9" y2="730.1" stroke="#DC1A0C" stroke-width="2"/>
<line x1="1018.1" y1="751.5" x2="1039.9" y2="751.5" stroke="#DC1A0C" stroke-width="2"/>
<line x1="1101.1" y1="977.9" x2="1101.1" y2="1014.5" stroke="#E64040" stroke-width="3.6"/>
<line x1="1090.2" y1="977.9" x2="1112.0" y2="977.9" stroke="#DC1A0C" stroke-width="2"/>
<line x1="1090.2" y1="1014.5" x2="1112.0" y2="1014.5" stroke="#DC1A0C" stroke-width="2"/>
<line x1="1173.2" y1="930.3" x2="1173.2" y2="1014.5" stroke="#E64040" stroke-width="3.6"/>
<line x1="1162.3" y1="930.3" x2="1184.1" y2="930.3" stroke="#DC1A0C" stroke-width="2"/>
<line x1="1162.3" y1="1014.5" x2="1184.1" y2="1014.5" stroke="#DC1A0C" stroke-width="2"/>
<line x1="1245.3" y1="977.9" x2="1245.3" y2="1055.2" stroke="#E64040" stroke-width="3.6"/>
<line x1="1234.4" y1="977.9" x2="1256.2" y2="977.9" stroke="#DC1A0C" stroke-width="2"/>
<line x1="1234.4" y1="1055.2" x2="1256.2" y2="1055.2" stroke="#DC1A0C" stroke-width="2"/>
<line x1="1317.4" y1="955.8" x2="1317.4" y2="1008.2" stroke="#E64040" stroke-width="3.6"/>
<line x1="1306.5" y1="955.8" x2="1328.3" y2="955.8" stroke="#DC1A0C" stroke-width="2"/>
<line x1="1306.5" y1="1008.2" x2="1328.3" y2="1008.2" stroke="#DC1A0C" stroke-width="2"/>
<line x1="1389.5" y1="766.0" x2="1389.5" y2="858.5" stroke="#E64040" stroke-width="3.6"/>
<line x1="1378.6" y1="766.0" x2="1400.4" y2="766.0" stroke="#DC1A0C" stroke-width="2"/>
<line x1="1378.6" y1="858.5" x2="1400.4" y2="858.5" stroke="#DC1A0C" stroke-width="2"/>
<line x1="1461.6" y1="957.9" x2="1461.6" y2="1021.4" stroke="#E64040" stroke-width="3.6"/>
<line x1="1450.7" y1="957.9" x2="1472.5" y2="957.9" stroke="#DC1A0C" stroke-width="2"/>
<line x1="1450.7" y1="1021.4" x2="1472.5" y2="1021.4" stroke="#DC1A0C" stroke-width="2"/>
<line x1="1533.7" y1="1002.7" x2="1533.7" y2="1084.2" stroke="#E64040" stroke-width="3.6"/>
<line x1="1522.8" y1="1002.7" x2="1544.6" y2="1002.7" stroke="#DC1A0C" stroke-width="2"/>
<line x1="1522.8" y1="1084.2" x2="1544.6" y2="1084.2" stroke="#DC1A0C" stroke-width="2"/>
<line x1="1605.8" y1="714.2" x2="1605.8" y2="836.4" stroke="#E64040" stroke-width="3.6"/>
<line x1="1594.9" y1="714.2" x2="1616.7" y2="714.2" stroke="#DC1A0C" stroke-width="2"/>
<line x1="1594.9" y1="836.4" x2="1616.7" y2="836.4" stroke="#DC1A0C" stroke-width="2"/>
<line x1="1677.9" y1="819.1" x2="1677.9" y2="842.6" stroke="#E64040" stroke-width="3.6"/>
<line x1="1667.0" y1="819.1" x2="1688.8" y2="819.1" stroke="#DC1A0C" stroke-width="2"/>
<line x1="1667.0" y1="842.6" x2="1688.8" y2="842.6" stroke="#DC1A0C" stroke-width="2"/>
<polyline points="1029.0,742.5 1101.1,996.5 1173.2,971.7 1245.3,1017.2 1317.4,982.0 1389.5,813.6 1461.6,987.5 1533.7,1044.8 1605.8,775.6 1677.9,831.6" fill="none" stroke="#DD2A1C" stroke-width="2.2" stroke-linejoin="round"/>
<rect x="1022.1" y="735.7" width="13.7" height="13.7" fill="#DE3021" stroke="#DC1A0C" stroke-width="0.8"/>
<rect x="1094.2" y="989.7" width="13.7" height="13.7" fill="#DE3021" stroke="#DC1A0C" stroke-width="0.8"/>
<rect x="1166.4" y="964.8" width="13.7" height="13.7" fill="#DE3021" stroke="#DC1A0C" stroke-width="0.8"/>
<rect x="1238.5" y="1010.4" width="13.7" height="13.7" fill="#DE3021" stroke="#DC1A0C" stroke-width="0.8"/>
<rect x="1310.6" y="975.2" width="13.7" height="13.7" fill="#DE3021" stroke="#DC1A0C" stroke-width="0.8"/>
<rect x="1382.7" y="806.8" width="13.7" height="13.7" fill="#DE3021" stroke="#DC1A0C" stroke-width="0.8"/>
<rect x="1454.8" y="980.7" width="13.7" height="13.7" fill="#DE3021" stroke="#DC1A0C" stroke-width="0.8"/>
<rect x="1526.8" y="1038.0" width="13.7" height="13.7" fill="#DE3021" stroke="#DC1A0C" stroke-width="0.8"/>
<rect x="1599.0" y="768.8" width="13.7" height="13.7" fill="#DE3021" stroke="#DC1A0C" stroke-width="0.8"/>
<rect x="1671.1" y="824.7" width="13.7" height="13.7" fill="#DE3021" stroke="#DC1A0C" stroke-width="0.8"/>
<rect x="996.0" y="695.9" width="714.0" height="407.1" fill="none" stroke="#000" stroke-width="1.8"/>
<line x1="989.5" y1="1089.0" x2="996.0" y2="1089.0" stroke="#000" stroke-width="1.4"/>
<text x="981.6" y="1098.3" font-family='"DejaVu Sans", "Liberation Sans", sans-serif' font-size="26.0" text-anchor="end" font-weight="normal" font-style="normal" fill="#000" letter-spacing="0.6">0.4</text>
<line x1="989.5" y1="1020.0" x2="996.0" y2="1020.0" stroke="#000" stroke-width="1.4"/>
<text x="981.6" y="1029.3" font-family='"DejaVu Sans", "Liberation Sans", sans-serif' font-size="26.0" text-anchor="end" font-weight="normal" font-style="normal" fill="#000" letter-spacing="0.6">0.5</text>
<line x1="989.5" y1="951.0" x2="996.0" y2="951.0" stroke="#000" stroke-width="1.4"/>
<text x="981.6" y="960.3" font-family='"DejaVu Sans", "Liberation Sans", sans-serif' font-size="26.0" text-anchor="end" font-weight="normal" font-style="normal" fill="#000" letter-spacing="0.6">0.6</text>
<line x1="989.5" y1="881.9" x2="996.0" y2="881.9" stroke="#000" stroke-width="1.4"/>
<text x="981.6" y="891.2" font-family='"DejaVu Sans", "Liberation Sans", sans-serif' font-size="26.0" text-anchor="end" font-weight="normal" font-style="normal" fill="#000" letter-spacing="0.6">0.7</text>
<line x1="989.5" y1="812.9" x2="996.0" y2="812.9" stroke="#000" stroke-width="1.4"/>
<text x="981.6" y="822.2" font-family='"DejaVu Sans", "Liberation Sans", sans-serif' font-size="26.0" text-anchor="end" font-weight="normal" font-style="normal" fill="#000" letter-spacing="0.6">0.8</text>
<line x1="989.5" y1="743.9" x2="996.0" y2="743.9" stroke="#000" stroke-width="1.4"/>
<text x="981.6" y="753.2" font-family='"DejaVu Sans", "Liberation Sans", sans-serif' font-size="26.0" text-anchor="end" font-weight="normal" font-style="normal" fill="#000" letter-spacing="0.6">0.9</text>
<line x1="1101.1" y1="1103.0" x2="1101.1" y2="1111.5" stroke="#000" stroke-width="1.4"/>
<text x="1101.4" y="1138.0" font-family='"DejaVu Sans", "Liberation Sans", sans-serif' font-size="26.0" text-anchor="middle" font-weight="normal" font-style="normal" fill="#000" letter-spacing="0.6">2</text>
<line x1="1245.3" y1="1103.0" x2="1245.3" y2="1111.5" stroke="#000" stroke-width="1.4"/>
<text x="1245.6" y="1138.0" font-family='"DejaVu Sans", "Liberation Sans", sans-serif' font-size="26.0" text-anchor="middle" font-weight="normal" font-style="normal" fill="#000" letter-spacing="0.6">4</text>
<line x1="1389.5" y1="1103.0" x2="1389.5" y2="1111.5" stroke="#000" stroke-width="1.4"/>
<text x="1389.8" y="1138.0" font-family='"DejaVu Sans", "Liberation Sans", sans-serif' font-size="26.0" text-anchor="middle" font-weight="normal" font-style="normal" fill="#000" letter-spacing="0.6">6</text>
<line x1="1533.7" y1="1103.0" x2="1533.7" y2="1111.5" stroke="#000" stroke-width="1.4"/>
<text x="1534.0" y="1138.0" font-family='"DejaVu Sans", "Liberation Sans", sans-serif' font-size="26.0" text-anchor="middle" font-weight="normal" font-style="normal" fill="#000" letter-spacing="0.6">8</text>
<line x1="1677.9" y1="1103.0" x2="1677.9" y2="1111.5" stroke="#000" stroke-width="1.4"/>
<text x="1678.2" y="1138.0" font-family='"DejaVu Sans", "Liberation Sans", sans-serif' font-size="26.0" text-anchor="middle" font-weight="normal" font-style="normal" fill="#000" letter-spacing="0.6">10</text>
<text transform="translate(920.0,902.0) rotate(-90)" font-family='"DejaVu Sans", "Liberation Sans", sans-serif' font-size="26.5" text-anchor="middle" letter-spacing="0.75" fill="#000">Accuracy</text>
<text x="1334.5" y="678.2" font-family='"Liberation Sans", Arial, Helvetica, sans-serif' font-size="30.8" text-anchor="middle" fill="#000"><tspan font-style="italic">L</tspan> = 10000, <tspan font-style="italic">l</tspan> = 1000</text>
<text x="901.0" y="663.0" font-family='"Liberation Sans", Arial, Helvetica, sans-serif' font-size="40.0" text-anchor="start" font-weight="bold" font-style="normal" fill="#000" >c</text>
<path d="M1026.0,1161.8 L1030.1,1161.8 L1030.1,1124.3 L1034.1,1124.3 L1028.1,1113.0 L1022.0,1124.3 L1026.0,1124.3 Z" fill="#000"/>
<text x="1041.3" y="1188.2" font-family='"Liberation Sans", Arial, Helvetica, sans-serif' font-size="25.5" text-anchor="middle" font-weight="normal" font-style="normal" fill="#000" letter-spacing="0.13">268: Insertion</text>
<text x="1388.6" y="1054.7" font-family='"Liberation Sans", Arial, Helvetica, sans-serif' font-size="25.5" text-anchor="middle" font-weight="normal" font-style="normal" fill="#000" letter-spacing="0.13">5980: Deletion</text>
<path d="M1386.9,1058.1 L1391.1,1058.1 L1391.1,1087.4 L1395.0,1087.4 L1389.0,1098.6 L1383.0,1087.4 L1386.9,1087.4 Z" fill="#000"/>
<text x="1626.9" y="1055.7" font-family='"Liberation Sans", Arial, Helvetica, sans-serif' font-size="25.5" text-anchor="middle" font-weight="normal" font-style="normal" fill="#000" letter-spacing="0.13">9263: Deletion</text>
<path d="M1675.6,1058.8 L1679.8,1058.8 L1679.8,1088.2 L1683.7,1088.2 L1677.7,1099.4 L1671.7,1088.2 L1675.6,1088.2 Z" fill="#000"/>
<path d="M1603.8,1161.7 L1608.2,1161.7 L1608.2,1123.6 L1612.0,1123.6 L1606.0,1112.3 L1600.0,1123.6 L1603.8,1123.6 Z" fill="#000"/>
<text x="1606.0" y="1189.8" font-family='"Liberation Sans", Arial, Helvetica, sans-serif' font-size="25.5" text-anchor="middle" font-weight="normal" font-style="normal" fill="#000" letter-spacing="0.13">8060: Deletion</text>
<text x="1606.0" y="1220.8" font-family='"Liberation Sans", Arial, Helvetica, sans-serif' font-size="25.5" text-anchor="middle" font-weight="normal" font-style="normal" fill="#000" letter-spacing="0.13">8219: Substitution</text>
<line x1="136.6" y1="1625.9" x2="837.8" y2="1625.9" stroke="#000" stroke-width="3.9" stroke-dasharray="31 11.2"/>
<line x1="160.3" y1="1452.0" x2="160.3" y2="1473.3" stroke="#E64040" stroke-width="3.6"/>
<line x1="149.4" y1="1452.0" x2="171.2" y2="1452.0" stroke="#DC1A0C" stroke-width="2"/>
<line x1="149.4" y1="1473.3" x2="171.2" y2="1473.3" stroke="#DC1A0C" stroke-width="2"/>
<line x1="194.5" y1="1774.8" x2="194.5" y2="1789.5" stroke="#E64040" stroke-width="3.6"/>
<line x1="183.6" y1="1774.8" x2="205.4" y2="1774.8" stroke="#DC1A0C" stroke-width="2"/>
<line x1="183.6" y1="1789.5" x2="205.4" y2="1789.5" stroke="#DC1A0C" stroke-width="2"/>
<line x1="228.8" y1="1748.3" x2="228.8" y2="1814.0" stroke="#E64040" stroke-width="3.6"/>
<line x1="217.9" y1="1748.3" x2="239.7" y2="1748.3" stroke="#DC1A0C" stroke-width="2"/>
<line x1="217.9" y1="1814.0" x2="239.7" y2="1814.0" stroke="#DC1A0C" stroke-width="2"/>
<line x1="263.0" y1="1699.8" x2="263.0" y2="1751.6" stroke="#E64040" stroke-width="3.6"/>
<line x1="252.1" y1="1699.8" x2="273.9" y2="1699.8" stroke="#DC1A0C" stroke-width="2"/>
<line x1="252.1" y1="1751.6" x2="273.9" y2="1751.6" stroke="#DC1A0C" stroke-width="2"/>
<line x1="297.2" y1="1784.1" x2="297.2" y2="1799.4" stroke="#E64040" stroke-width="3.6"/>
<line x1="286.3" y1="1784.1" x2="308.1" y2="1784.1" stroke="#DC1A0C" stroke-width="2"/>
<line x1="286.3" y1="1799.4" x2="308.1" y2="1799.4" stroke="#DC1A0C" stroke-width="2"/>
<line x1="331.4" y1="1488.6" x2="331.4" y2="1511.8" stroke="#E64040" stroke-width="3.6"/>
<line x1="320.6" y1="1488.6" x2="342.3" y2="1488.6" stroke="#DC1A0C" stroke-width="2"/>
<line x1="320.6" y1="1511.8" x2="342.3" y2="1511.8" stroke="#DC1A0C" stroke-width="2"/>
<line x1="365.7" y1="1695.1" x2="365.7" y2="1764.2" stroke="#E64040" stroke-width="3.6"/>
<line x1="354.8" y1="1695.1" x2="376.6" y2="1695.1" stroke="#DC1A0C" stroke-width="2"/>
<line x1="354.8" y1="1764.2" x2="376.6" y2="1764.2" stroke="#DC1A0C" stroke-width="2"/>
<line x1="399.9" y1="1683.9" x2="399.9" y2="1733.0" stroke="#E64040" stroke-width="3.6"/>
<line x1="389.0" y1="1683.9" x2="410.8" y2="1683.9" stroke="#DC1A0C" stroke-width="2"/>
<line x1="389.0" y1="1733.0" x2="410.8" y2="1733.0" stroke="#DC1A0C" stroke-width="2"/>
<line x1="434.1" y1="1733.0" x2="434.1" y2="1751.6" stroke="#E64040" stroke-width="3.6"/>
<line x1="423.2" y1="1733.0" x2="445.0" y2="1733.0" stroke="#DC1A0C" stroke-width="2"/>
<line x1="423.2" y1="1751.6" x2="445.0" y2="1751.6" stroke="#DC1A0C" stroke-width="2"/>
<line x1="468.4" y1="1705.1" x2="468.4" y2="1751.6" stroke="#E64040" stroke-width="3.6"/>
<line x1="457.5" y1="1705.1" x2="479.3" y2="1705.1" stroke="#DC1A0C" stroke-width="2"/>
<line x1="457.5" y1="1751.6" x2="479.3" y2="1751.6" stroke="#DC1A0C" stroke-width="2"/>
<line x1="502.6" y1="1724.4" x2="502.6" y2="1745.6" stroke="#E64040" stroke-width="3.6"/>
<line x1="491.7" y1="1724.4" x2="513.5" y2="1724.4" stroke="#DC1A0C" stroke-width="2"/>
<line x1="491.7" y1="1745.6" x2="513.5" y2="1745.6" stroke="#DC1A0C" stroke-width="2"/>
<line x1="536.8" y1="1705.1" x2="536.8" y2="1745.6" stroke="#E64040" stroke-width="3.6"/>
<line x1="525.9" y1="1705.1" x2="547.7" y2="1705.1" stroke="#DC1A0C" stroke-width="2"/>
<line x1="525.9" y1="1745.6" x2="547.7" y2="1745.6" stroke="#DC1A0C" stroke-width="2"/>
<line x1="571.1" y1="1507.8" x2="571.1" y2="1539.1" stroke="#E64040" stroke-width="3.6"/>
<line x1="560.2" y1="1507.8" x2="582.0" y2="1507.8" stroke="#DC1A0C" stroke-width="2"/>
<line x1="560.2" y1="1539.1" x2="582.0" y2="1539.1" stroke="#DC1A0C" stroke-width="2"/>
<line x1="605.3" y1="1770.2" x2="605.3" y2="1822.0" stroke="#E64040" stroke-width="3.6"/>
<line x1="594.4" y1="1770.2" x2="616.2" y2="1770.2" stroke="#DC1A0C" stroke-width="2"/>
<line x1="594.4" y1="1822.0" x2="616.2" y2="1822.0" stroke="#DC1A0C" stroke-width="2"/>
<line x1="639.5" y1="1545.0" x2="639.5" y2="1594.9" stroke="#E64040" stroke-width="3.6"/>
<line x1="628.6" y1="1545.0" x2="650.4" y2="1545.0" stroke="#DC1A0C" stroke-width="2"/>
<line x1="628.6" y1="1594.9" x2="650.4" y2="1594.9" stroke="#DC1A0C" stroke-width="2"/>
<line x1="673.8" y1="1705.1" x2="673.8" y2="1801.4" stroke="#E64040" stroke-width="3.6"/>
<line x1="662.9" y1="1705.1" x2="684.6" y2="1705.1" stroke="#DC1A0C" stroke-width="2"/>
<line x1="662.9" y1="1801.4" x2="684.6" y2="1801.4" stroke="#DC1A0C" stroke-width="2"/>
<line x1="708.0" y1="1725.7" x2="708.0" y2="1770.9" stroke="#E64040" stroke-width="3.6"/>
<line x1="697.1" y1="1725.7" x2="718.9" y2="1725.7" stroke="#DC1A0C" stroke-width="2"/>
<line x1="697.1" y1="1770.9" x2="718.9" y2="1770.9" stroke="#DC1A0C" stroke-width="2"/>
<line x1="742.2" y1="1551.0" x2="742.2" y2="1611.5" stroke="#E64040" stroke-width="3.6"/>
<line x1="731.3" y1="1551.0" x2="753.1" y2="1551.0" stroke="#DC1A0C" stroke-width="2"/>
<line x1="731.3" y1="1611.5" x2="753.1" y2="1611.5" stroke="#DC1A0C" stroke-width="2"/>
<line x1="776.4" y1="1681.9" x2="776.4" y2="1745.6" stroke="#E64040" stroke-width="3.6"/>
<line x1="765.5" y1="1681.9" x2="787.3" y2="1681.9" stroke="#DC1A0C" stroke-width="2"/>
<line x1="765.5" y1="1745.6" x2="787.3" y2="1745.6" stroke="#DC1A0C" stroke-width="2"/>
<line x1="810.7" y1="1693.2" x2="810.7" y2="1710.4" stroke="#E64040" stroke-width="3.6"/>
<line x1="799.8" y1="1693.2" x2="821.6" y2="1693.2" stroke="#DC1A0C" stroke-width="2"/>
<line x1="799.8" y1="1710.4" x2="821.6" y2="1710.4" stroke="#DC1A0C" stroke-width="2"/>
<polyline points="160.3,1464.0 194.5,1782.2 228.8,1780.2 263.0,1725.7 297.2,1792.1 331.4,1499.9 365.7,1730.3 399.9,1708.4 434.1,1741.0 468.4,1729.0 502.6,1735.0 536.8,1725.7 571.1,1522.5 605.3,1796.8 639.5,1569.6 673.8,1753.6 708.0,1750.3 742.2,1581.6 776.4,1713.1 810.7,1700.5" fill="none" stroke="#DD2A1C" stroke-width="2.2" stroke-linejoin="round"/>
<rect x="153.5" y="1457.2" width="13.7" height="13.7" fill="#DE3021" stroke="#DC1A0C" stroke-width="0.8"/>
<rect x="187.7" y="1775.3" width="13.7" height="13.7" fill="#DE3021" stroke="#DC1A0C" stroke-width="0.8"/>
<rect x="221.9" y="1773.3" width="13.7" height="13.7" fill="#DE3021" stroke="#DC1A0C" stroke-width="0.8"/>
<rect x="256.1" y="1718.8" width="13.7" height="13.7" fill="#DE3021" stroke="#DC1A0C" stroke-width="0.8"/>
<rect x="290.4" y="1785.3" width="13.7" height="13.7" fill="#DE3021" stroke="#DC1A0C" stroke-width="0.8"/>
<rect x="324.6" y="1493.0" width="13.7" height="13.7" fill="#DE3021" stroke="#DC1A0C" stroke-width="0.8"/>
<rect x="358.8" y="1723.5" width="13.7" height="13.7" fill="#DE3021" stroke="#DC1A0C" stroke-width="0.8"/>
<rect x="393.1" y="1701.6" width="13.7" height="13.7" fill="#DE3021" stroke="#DC1A0C" stroke-width="0.8"/>
<rect x="427.3" y="1734.1" width="13.7" height="13.7" fill="#DE3021" stroke="#DC1A0C" stroke-width="0.8"/>
<rect x="461.5" y="1722.2" width="13.7" height="13.7" fill="#DE3021" stroke="#DC1A0C" stroke-width="0.8"/>
<rect x="495.7" y="1728.1" width="13.7" height="13.7" fill="#DE3021" stroke="#DC1A0C" stroke-width="0.8"/>
<rect x="530.0" y="1718.8" width="13.7" height="13.7" fill="#DE3021" stroke="#DC1A0C" stroke-width="0.8"/>
<rect x="564.2" y="1515.6" width="13.7" height="13.7" fill="#DE3021" stroke="#DC1A0C" stroke-width="0.8"/>
<rect x="598.4" y="1789.9" width="13.7" height="13.7" fill="#DE3021" stroke="#DC1A0C" stroke-width="0.8"/>
<rect x="632.7" y="1562.8" width="13.7" height="13.7" fill="#DE3021" stroke="#DC1A0C" stroke-width="0.8"/>
<rect x="666.9" y="1746.7" width="13.7" height="13.7" fill="#DE3021" stroke="#DC1A0C" stroke-width="0.8"/>
<rect x="701.1" y="1743.4" width="13.7" height="13.7" fill="#DE3021" stroke="#DC1A0C" stroke-width="0.8"/>
<rect x="735.4" y="1574.7" width="13.7" height="13.7" fill="#DE3021" stroke="#DC1A0C" stroke-width="0.8"/>
<rect x="769.6" y="1706.2" width="13.7" height="13.7" fill="#DE3021" stroke="#DC1A0C" stroke-width="0.8"/>
<rect x="803.8" y="1693.6" width="13.7" height="13.7" fill="#DE3021" stroke="#DC1A0C" stroke-width="0.8"/>
<rect x="127.9" y="1434.0" width="714.0" height="405.6" fill="none" stroke="#000" stroke-width="1.8"/>
<line x1="121.4" y1="1824.0" x2="127.9" y2="1824.0" stroke="#000" stroke-width="1.4"/>
<text x="113.5" y="1833.3" font-family='"DejaVu Sans", "Liberation Sans", sans-serif' font-size="26.0" text-anchor="end" font-weight="normal" font-style="normal" fill="#000" letter-spacing="0.6">0.4</text>
<line x1="121.4" y1="1757.6" x2="127.9" y2="1757.6" stroke="#000" stroke-width="1.4"/>
<text x="113.5" y="1766.9" font-family='"DejaVu Sans", "Liberation Sans", sans-serif' font-size="26.0" text-anchor="end" font-weight="normal" font-style="normal" fill="#000" letter-spacing="0.6">0.5</text>
<line x1="121.4" y1="1691.2" x2="127.9" y2="1691.2" stroke="#000" stroke-width="1.4"/>
<text x="113.5" y="1700.5" font-family='"DejaVu Sans", "Liberation Sans", sans-serif' font-size="26.0" text-anchor="end" font-weight="normal" font-style="normal" fill="#000" letter-spacing="0.6">0.6</text>
<line x1="121.4" y1="1624.7" x2="127.9" y2="1624.7" stroke="#000" stroke-width="1.4"/>
<text x="113.5" y="1634.0" font-family='"DejaVu Sans", "Liberation Sans", sans-serif' font-size="26.0" text-anchor="end" font-weight="normal" font-style="normal" fill="#000" letter-spacing="0.6">0.7</text>
<line x1="121.4" y1="1558.3" x2="127.9" y2="1558.3" stroke="#000" stroke-width="1.4"/>
<text x="113.5" y="1567.6" font-family='"DejaVu Sans", "Liberation Sans", sans-serif' font-size="26.0" text-anchor="end" font-weight="normal" font-style="normal" fill="#000" letter-spacing="0.6">0.8</text>
<line x1="121.4" y1="1491.9" x2="127.9" y2="1491.9" stroke="#000" stroke-width="1.4"/>
<text x="113.5" y="1501.2" font-family='"DejaVu Sans", "Liberation Sans", sans-serif' font-size="26.0" text-anchor="end" font-weight="normal" font-style="normal" fill="#000" letter-spacing="0.6">0.9</text>
<line x1="297.2" y1="1839.6" x2="297.2" y2="1848.1" stroke="#000" stroke-width="1.4"/>
<text x="297.5" y="1874.6" font-family='"DejaVu Sans", "Liberation Sans", sans-serif' font-size="26.0" text-anchor="middle" font-weight="normal" font-style="normal" fill="#000" letter-spacing="0.6">5</text>
<line x1="468.4" y1="1839.6" x2="468.4" y2="1848.1" stroke="#000" stroke-width="1.4"/>
<text x="468.7" y="1874.6" font-family='"DejaVu Sans", "Liberation Sans", sans-serif' font-size="26.0" text-anchor="middle" font-weight="normal" font-style="normal" fill="#000" letter-spacing="0.6">10</text>
<line x1="639.5" y1="1839.6" x2="639.5" y2="1848.1" stroke="#000" stroke-width="1.4"/>
<text x="639.8" y="1874.6" font-family='"DejaVu Sans", "Liberation Sans", sans-serif' font-size="26.0" text-anchor="middle" font-weight="normal" font-style="normal" fill="#000" letter-spacing="0.6">15</text>
<line x1="810.7" y1="1839.6" x2="810.7" y2="1848.1" stroke="#000" stroke-width="1.4"/>
<text x="811.0" y="1874.6" font-family='"DejaVu Sans", "Liberation Sans", sans-serif' font-size="26.0" text-anchor="middle" font-weight="normal" font-style="normal" fill="#000" letter-spacing="0.6">20</text>
<text transform="translate(52.0,1639.0) rotate(-90)" font-family='"DejaVu Sans", "Liberation Sans", sans-serif' font-size="26.5" text-anchor="middle" letter-spacing="0.75" fill="#000">Accuracy</text>
<text x="487.5" y="1414.5" font-family='"Liberation Sans", Arial, Helvetica, sans-serif' font-size="30.8" text-anchor="middle" fill="#000"><tspan font-style="italic">L</tspan> = 1000, <tspan font-style="italic">l</tspan> = 50</text>
<text x="-1.5" y="1361.6" font-family='"Liberation Sans", Arial, Helvetica, sans-serif' font-size="40.0" text-anchor="start" font-weight="bold" font-style="normal" fill="#000" >d</text>
<path d="M154.8,1895.8 L158.9,1895.8 L158.9,1857.2 L162.9,1857.2 L156.8,1845.9 L150.8,1857.2 L154.8,1857.2 Z" fill="#000"/>
<text x="143.0" y="1928.7" font-family='"Liberation Sans", Arial, Helvetica, sans-serif' font-size="25.5" text-anchor="middle" font-weight="normal" font-style="normal" fill="#000" letter-spacing="0.13">5: Substitution</text>
<path d="M329.2,1895.8 L334.0,1895.8 L334.0,1857.2 L337.7,1857.2 L331.6,1845.9 L325.6,1857.2 L329.2,1857.2 Z" fill="#000"/>
<text x="335.2" y="1930.2" font-family='"Liberation Sans", Arial, Helvetica, sans-serif' font-size="25.5" text-anchor="middle" font-weight="normal" font-style="normal" fill="#000" letter-spacing="0.13">288: Insertion</text>
<text x="510.7" y="1802.2" font-family='"Liberation Sans", Arial, Helvetica, sans-serif' font-size="25.5" text-anchor="middle" font-weight="normal" font-style="normal" fill="#000" letter-spacing="0.13">641: Deletion</text>
<path d="M569.4,1810.9 L574.0,1810.9 L574.0,1827.3 L577.7,1827.3 L571.7,1838.5 L565.7,1827.3 L569.4,1827.3 Z" fill="#000"/>
<text x="763.5" y="1803.5" font-family='"Liberation Sans", Arial, Helvetica, sans-serif' font-size="25.5" text-anchor="middle" font-weight="normal" font-style="normal" fill="#000" letter-spacing="0.13">883: Insertion</text>
<path d="M737.7,1808.2 L742.3,1808.2 L742.3,1824.6 L746.0,1824.6 L740.0,1835.8 L734.0,1824.6 L737.7,1824.6 Z" fill="#000"/>
<path d="M637.2,1895.8 L641.8,1895.8 L641.8,1855.2 L645.5,1855.2 L639.5,1843.9 L633.5,1855.2 L637.2,1855.2 Z" fill="#000"/>
<text x="632.6" y="1930.2" font-family='"Liberation Sans", Arial, Helvetica, sans-serif' font-size="25.5" text-anchor="middle" font-weight="normal" font-style="normal" fill="#000" letter-spacing="0.13">730: Insertion</text>
<line x1="1000.9" y1="1613.8" x2="1703.6" y2="1613.8" stroke="#000" stroke-width="3.9" stroke-dasharray="31 11.2"/>
<line x1="1027.3" y1="1736.5" x2="1027.3" y2="1806.8" stroke="#E64040" stroke-width="3.6"/>
<line x1="1016.4" y1="1736.5" x2="1038.2" y2="1736.5" stroke="#DC1A0C" stroke-width="2"/>
<line x1="1016.4" y1="1806.8" x2="1038.2" y2="1806.8" stroke="#DC1A0C" stroke-width="2"/>
<line x1="1061.5" y1="1698.2" x2="1061.5" y2="1760.8" stroke="#E64040" stroke-width="3.6"/>
<line x1="1050.6" y1="1698.2" x2="1072.4" y2="1698.2" stroke="#DC1A0C" stroke-width="2"/>
<line x1="1050.6" y1="1760.8" x2="1072.4" y2="1760.8" stroke="#DC1A0C" stroke-width="2"/>
<line x1="1095.7" y1="1553.4" x2="1095.7" y2="1591.0" stroke="#E64040" stroke-width="3.6"/>
<line x1="1084.8" y1="1553.4" x2="1106.6" y2="1553.4" stroke="#DC1A0C" stroke-width="2"/>
<line x1="1084.8" y1="1591.0" x2="1106.6" y2="1591.0" stroke="#DC1A0C" stroke-width="2"/>
<line x1="1129.9" y1="1749.7" x2="1129.9" y2="1786.6" stroke="#E64040" stroke-width="3.6"/>
<line x1="1119.0" y1="1749.7" x2="1140.8" y2="1749.7" stroke="#DC1A0C" stroke-width="2"/>
<line x1="1119.0" y1="1786.6" x2="1140.8" y2="1786.6" stroke="#DC1A0C" stroke-width="2"/>
<line x1="1164.1" y1="1743.4" x2="1164.1" y2="1800.5" stroke="#E64040" stroke-width="3.6"/>
<line x1="1153.2" y1="1743.4" x2="1175.0" y2="1743.4" stroke="#DC1A0C" stroke-width="2"/>
<line x1="1153.2" y1="1800.5" x2="1175.0" y2="1800.5" stroke="#DC1A0C" stroke-width="2"/>
<line x1="1198.3" y1="1710.0" x2="1198.3" y2="1762.2" stroke="#E64040" stroke-width="3.6"/>
<line x1="1187.4" y1="1710.0" x2="1209.2" y2="1710.0" stroke="#DC1A0C" stroke-width="2"/>
<line x1="1187.4" y1="1762.2" x2="1209.2" y2="1762.2" stroke="#DC1A0C" stroke-width="2"/>
<line x1="1232.5" y1="1740.0" x2="1232.5" y2="1759.5" stroke="#E64040" stroke-width="3.6"/>
<line x1="1221.6" y1="1740.0" x2="1243.4" y2="1740.0" stroke="#DC1A0C" stroke-width="2"/>
<line x1="1221.6" y1="1759.5" x2="1243.4" y2="1759.5" stroke="#DC1A0C" stroke-width="2"/>
<line x1="1266.7" y1="1734.4" x2="1266.7" y2="1760.2" stroke="#E64040" stroke-width="3.6"/>
<line x1="1255.8" y1="1734.4" x2="1277.6" y2="1734.4" stroke="#DC1A0C" stroke-width="2"/>
<line x1="1255.8" y1="1760.2" x2="1277.6" y2="1760.2" stroke="#DC1A0C" stroke-width="2"/>
<line x1="1300.9" y1="1452.4" x2="1300.9" y2="1506.0" stroke="#E64040" stroke-width="3.6"/>
<line x1="1290.0" y1="1452.4" x2="1311.8" y2="1452.4" stroke="#DC1A0C" stroke-width="2"/>
<line x1="1290.0" y1="1506.0" x2="1311.8" y2="1506.0" stroke="#DC1A0C" stroke-width="2"/>
<line x1="1335.1" y1="1518.6" x2="1335.1" y2="1538.8" stroke="#E64040" stroke-width="3.6"/>
<line x1="1324.2" y1="1518.6" x2="1346.0" y2="1518.6" stroke="#DC1A0C" stroke-width="2"/>
<line x1="1324.2" y1="1538.8" x2="1346.0" y2="1538.8" stroke="#DC1A0C" stroke-width="2"/>
<line x1="1369.3" y1="1726.0" x2="1369.3" y2="1784.5" stroke="#E64040" stroke-width="3.6"/>
<line x1="1358.4" y1="1726.0" x2="1380.2" y2="1726.0" stroke="#DC1A0C" stroke-width="2"/>
<line x1="1358.4" y1="1784.5" x2="1380.2" y2="1784.5" stroke="#DC1A0C" stroke-width="2"/>
<line x1="1403.5" y1="1470.5" x2="1403.5" y2="1500.5" stroke="#E64040" stroke-width="3.6"/>
<line x1="1392.6" y1="1470.5" x2="1414.4" y2="1470.5" stroke="#DC1A0C" stroke-width="2"/>
<line x1="1392.6" y1="1500.5" x2="1414.4" y2="1500.5" stroke="#DC1A0C" stroke-width="2"/>
<line x1="1437.7" y1="1698.2" x2="1437.7" y2="1778.3" stroke="#E64040" stroke-width="3.6"/>
<line x1="1426.8" y1="1698.2" x2="1448.6" y2="1698.2" stroke="#DC1A0C" stroke-width="2"/>
<line x1="1426.8" y1="1778.3" x2="1448.6" y2="1778.3" stroke="#DC1A0C" stroke-width="2"/>
<line x1="1471.9" y1="1728.8" x2="1471.9" y2="1758.8" stroke="#E64040" stroke-width="3.6"/>
<line x1="1461.0" y1="1728.8" x2="1482.8" y2="1728.8" stroke="#DC1A0C" stroke-width="2"/>
<line x1="1461.0" y1="1758.8" x2="1482.8" y2="1758.8" stroke="#DC1A0C" stroke-width="2"/>
<line x1="1506.1" y1="1698.2" x2="1506.1" y2="1760.2" stroke="#E64040" stroke-width="3.6"/>
<line x1="1495.2" y1="1698.2" x2="1517.0" y2="1698.2" stroke="#DC1A0C" stroke-width="2"/>
<line x1="1495.2" y1="1760.2" x2="1517.0" y2="1760.2" stroke="#DC1A0C" stroke-width="2"/>
<line x1="1540.3" y1="1720.5" x2="1540.3" y2="1772.7" stroke="#E64040" stroke-width="3.6"/>
<line x1="1529.4" y1="1720.5" x2="1551.2" y2="1720.5" stroke="#DC1A0C" stroke-width="2"/>
<line x1="1529.4" y1="1772.7" x2="1551.2" y2="1772.7" stroke="#DC1A0C" stroke-width="2"/>
<line x1="1574.5" y1="1707.9" x2="1574.5" y2="1770.6" stroke="#E64040" stroke-width="3.6"/>
<line x1="1563.6" y1="1707.9" x2="1585.4" y2="1707.9" stroke="#DC1A0C" stroke-width="2"/>
<line x1="1563.6" y1="1770.6" x2="1585.4" y2="1770.6" stroke="#DC1A0C" stroke-width="2"/>
<line x1="1608.7" y1="1728.1" x2="1608.7" y2="1792.2" stroke="#E64040" stroke-width="3.6"/>
<line x1="1597.8" y1="1728.1" x2="1619.6" y2="1728.1" stroke="#DC1A0C" stroke-width="2"/>
<line x1="1597.8" y1="1792.2" x2="1619.6" y2="1792.2" stroke="#DC1A0C" stroke-width="2"/>
<line x1="1642.9" y1="1671.7" x2="1642.9" y2="1746.2" stroke="#E64040" stroke-width="3.6"/>
<line x1="1632.0" y1="1671.7" x2="1653.8" y2="1671.7" stroke="#DC1A0C" stroke-width="2"/>
<line x1="1632.0" y1="1746.2" x2="1653.8" y2="1746.2" stroke="#DC1A0C" stroke-width="2"/>
<line x1="1677.1" y1="1723.3" x2="1677.1" y2="1822.1" stroke="#E64040" stroke-width="3.6"/>
<line x1="1666.2" y1="1723.3" x2="1688.0" y2="1723.3" stroke="#DC1A0C" stroke-width="2"/>
<line x1="1666.2" y1="1822.1" x2="1688.0" y2="1822.1" stroke="#DC1A0C" stroke-width="2"/>
<polyline points="1027.3,1771.3 1061.5,1730.9 1095.7,1574.3 1129.9,1768.5 1164.1,1771.3 1198.3,1736.5 1232.5,1748.3 1266.7,1746.2 1300.9,1480.3 1335.1,1529.7 1369.3,1756.7 1403.5,1484.5 1437.7,1737.9 1471.9,1742.7 1506.1,1730.2 1540.3,1746.2 1574.5,1740.0 1608.7,1760.2 1642.9,1708.6 1677.1,1772.7" fill="none" stroke="#DD2A1C" stroke-width="2.2" stroke-linejoin="round"/>
<rect x="1020.4" y="1764.4" width="13.7" height="13.7" fill="#DE3021" stroke="#DC1A0C" stroke-width="0.8"/>
<rect x="1054.7" y="1724.1" width="13.7" height="13.7" fill="#DE3021" stroke="#DC1A0C" stroke-width="0.8"/>
<rect x="1088.9" y="1567.4" width="13.7" height="13.7" fill="#DE3021" stroke="#DC1A0C" stroke-width="0.8"/>
<rect x="1123.0" y="1761.7" width="13.7" height="13.7" fill="#DE3021" stroke="#DC1A0C" stroke-width="0.8"/>
<rect x="1157.2" y="1764.4" width="13.7" height="13.7" fill="#DE3021" stroke="#DC1A0C" stroke-width="0.8"/>
<rect x="1191.5" y="1729.6" width="13.7" height="13.7" fill="#DE3021" stroke="#DC1A0C" stroke-width="0.8"/>
<rect x="1225.7" y="1741.5" width="13.7" height="13.7" fill="#DE3021" stroke="#DC1A0C" stroke-width="0.8"/>
<rect x="1259.9" y="1739.4" width="13.7" height="13.7" fill="#DE3021" stroke="#DC1A0C" stroke-width="0.8"/>
<rect x="1294.1" y="1473.4" width="13.7" height="13.7" fill="#DE3021" stroke="#DC1A0C" stroke-width="0.8"/>
<rect x="1328.2" y="1522.9" width="13.7" height="13.7" fill="#DE3021" stroke="#DC1A0C" stroke-width="0.8"/>
<rect x="1362.5" y="1749.8" width="13.7" height="13.7" fill="#DE3021" stroke="#DC1A0C" stroke-width="0.8"/>
<rect x="1396.7" y="1477.6" width="13.7" height="13.7" fill="#DE3021" stroke="#DC1A0C" stroke-width="0.8"/>
<rect x="1430.9" y="1731.0" width="13.7" height="13.7" fill="#DE3021" stroke="#DC1A0C" stroke-width="0.8"/>
<rect x="1465.1" y="1735.9" width="13.7" height="13.7" fill="#DE3021" stroke="#DC1A0C" stroke-width="0.8"/>
<rect x="1499.2" y="1723.4" width="13.7" height="13.7" fill="#DE3021" stroke="#DC1A0C" stroke-width="0.8"/>
<rect x="1533.5" y="1739.4" width="13.7" height="13.7" fill="#DE3021" stroke="#DC1A0C" stroke-width="0.8"/>
<rect x="1567.7" y="1733.1" width="13.7" height="13.7" fill="#DE3021" stroke="#DC1A0C" stroke-width="0.8"/>
<rect x="1601.9" y="1753.3" width="13.7" height="13.7" fill="#DE3021" stroke="#DC1A0C" stroke-width="0.8"/>
<rect x="1636.1" y="1701.8" width="13.7" height="13.7" fill="#DE3021" stroke="#DC1A0C" stroke-width="0.8"/>
<rect x="1670.2" y="1765.8" width="13.7" height="13.7" fill="#DE3021" stroke="#DC1A0C" stroke-width="0.8"/>
<rect x="995.0" y="1434.9" width="713.9" height="405.9" fill="none" stroke="#000" stroke-width="1.8"/>
<line x1="988.5" y1="1824.9" x2="995.0" y2="1824.9" stroke="#000" stroke-width="1.4"/>
<text x="980.6" y="1834.2" font-family='"DejaVu Sans", "Liberation Sans", sans-serif' font-size="26.0" text-anchor="end" font-weight="normal" font-style="normal" fill="#000" letter-spacing="0.6">0.4</text>
<line x1="988.5" y1="1755.3" x2="995.0" y2="1755.3" stroke="#000" stroke-width="1.4"/>
<text x="980.6" y="1764.6" font-family='"DejaVu Sans", "Liberation Sans", sans-serif' font-size="26.0" text-anchor="end" font-weight="normal" font-style="normal" fill="#000" letter-spacing="0.6">0.5</text>
<line x1="988.5" y1="1685.7" x2="995.0" y2="1685.7" stroke="#000" stroke-width="1.4"/>
<text x="980.6" y="1695.0" font-family='"DejaVu Sans", "Liberation Sans", sans-serif' font-size="26.0" text-anchor="end" font-weight="normal" font-style="normal" fill="#000" letter-spacing="0.6">0.6</text>
<line x1="988.5" y1="1616.0" x2="995.0" y2="1616.0" stroke="#000" stroke-width="1.4"/>
<text x="980.6" y="1625.3" font-family='"DejaVu Sans", "Liberation Sans", sans-serif' font-size="26.0" text-anchor="end" font-weight="normal" font-style="normal" fill="#000" letter-spacing="0.6">0.7</text>
<line x1="988.5" y1="1546.4" x2="995.0" y2="1546.4" stroke="#000" stroke-width="1.4"/>
<text x="980.6" y="1555.7" font-family='"DejaVu Sans", "Liberation Sans", sans-serif' font-size="26.0" text-anchor="end" font-weight="normal" font-style="normal" fill="#000" letter-spacing="0.6">0.8</text>
<line x1="988.5" y1="1476.8" x2="995.0" y2="1476.8" stroke="#000" stroke-width="1.4"/>
<text x="980.6" y="1486.1" font-family='"DejaVu Sans", "Liberation Sans", sans-serif' font-size="26.0" text-anchor="end" font-weight="normal" font-style="normal" fill="#000" letter-spacing="0.6">0.9</text>
<line x1="1164.1" y1="1840.8" x2="1164.1" y2="1849.3" stroke="#000" stroke-width="1.4"/>
<text x="1164.4" y="1875.8" font-family='"DejaVu Sans", "Liberation Sans", sans-serif' font-size="26.0" text-anchor="middle" font-weight="normal" font-style="normal" fill="#000" letter-spacing="0.6">5</text>
<line x1="1335.1" y1="1840.8" x2="1335.1" y2="1849.3" stroke="#000" stroke-width="1.4"/>
<text x="1335.4" y="1875.8" font-family='"DejaVu Sans", "Liberation Sans", sans-serif' font-size="26.0" text-anchor="middle" font-weight="normal" font-style="normal" fill="#000" letter-spacing="0.6">10</text>
<line x1="1506.1" y1="1840.8" x2="1506.1" y2="1849.3" stroke="#000" stroke-width="1.4"/>
<text x="1506.4" y="1875.8" font-family='"DejaVu Sans", "Liberation Sans", sans-serif' font-size="26.0" text-anchor="middle" font-weight="normal" font-style="normal" fill="#000" letter-spacing="0.6">15</text>
<line x1="1677.1" y1="1840.8" x2="1677.1" y2="1849.3" stroke="#000" stroke-width="1.4"/>
<text x="1677.4" y="1875.8" font-family='"DejaVu Sans", "Liberation Sans", sans-serif' font-size="26.0" text-anchor="middle" font-weight="normal" font-style="normal" fill="#000" letter-spacing="0.6">20</text>
<text transform="translate(918.0,1640.6) rotate(-90)" font-family='"DejaVu Sans", "Liberation Sans", sans-serif' font-size="26.5" text-anchor="middle" letter-spacing="0.75" fill="#000">Accuracy</text>
<text x="1346.4" y="1418.5" font-family='"Liberation Sans", Arial, Helvetica, sans-serif' font-size="30.8" text-anchor="middle" fill="#000"><tspan font-style="italic">L</tspan> = 10000, <tspan font-style="italic">l</tspan> = 500</text>
<text x="903.5" y="1393.2" font-family='"Liberation Sans", Arial, Helvetica, sans-serif' font-size="40.0" text-anchor="start" font-weight="bold" font-style="normal" fill="#000" >e</text>
<path d="M1093.8,1883.9 L1098.8,1883.9 L1098.8,1857.2 L1102.3,1857.2 L1096.3,1845.9 L1090.2,1857.2 L1093.8,1857.2 Z" fill="#000"/>
<text x="1096.9" y="1906.3" font-family='"Liberation Sans", Arial, Helvetica, sans-serif' font-size="25.5" text-anchor="middle" font-weight="normal" font-style="normal" fill="#000" letter-spacing="0.13">1033:Substitution</text>
<text x="1266.6" y="1799.5" font-family='"Liberation Sans", Arial, Helvetica, sans-serif' font-size="25.5" text-anchor="middle" font-weight="normal" font-style="normal" fill="#000" letter-spacing="0.13">4982: Insertion</text>
<path d="M1331.9,1810.9 L1336.5,1810.9 L1336.5,1827.4 L1340.2,1827.4 L1334.2,1838.6 L1328.2,1827.4 L1331.9,1827.4 Z" fill="#000"/>
<path d="M1300.2,1898.8 L1305.0,1898.8 L1305.0,1863.2 L1308.6,1863.2 L1302.6,1851.9 L1296.5,1863.2 L1300.2,1863.2 Z" fill="#000"/>
<text x="1296.7" y="1925.6" font-family='"Liberation Sans", Arial, Helvetica, sans-serif' font-size="25.5" text-anchor="middle" font-weight="normal" font-style="normal" fill="#000" letter-spacing="0.13">4211: Deletion</text>
<text x="1296.2" y="1955.6" font-family='"Liberation Sans", Arial, Helvetica, sans-serif' font-size="25.5" text-anchor="middle" font-weight="normal" font-style="normal" fill="#000" letter-spacing="0.13">4357: Substitution</text>
<path d="M1409.0,1887.1 L1413.8,1887.1 L1413.8,1860.6 L1417.5,1860.6 L1411.4,1849.3 L1405.4,1860.6 L1409.0,1860.6 Z" fill="#000"/>
<text x="1480.9" y="1909.5" font-family='"Liberation Sans", Arial, Helvetica, sans-serif' font-size="25.5" text-anchor="middle" font-weight="normal" font-style="normal" fill="#000" letter-spacing="0.13">5507: Deletion</text></svg></body></html>
